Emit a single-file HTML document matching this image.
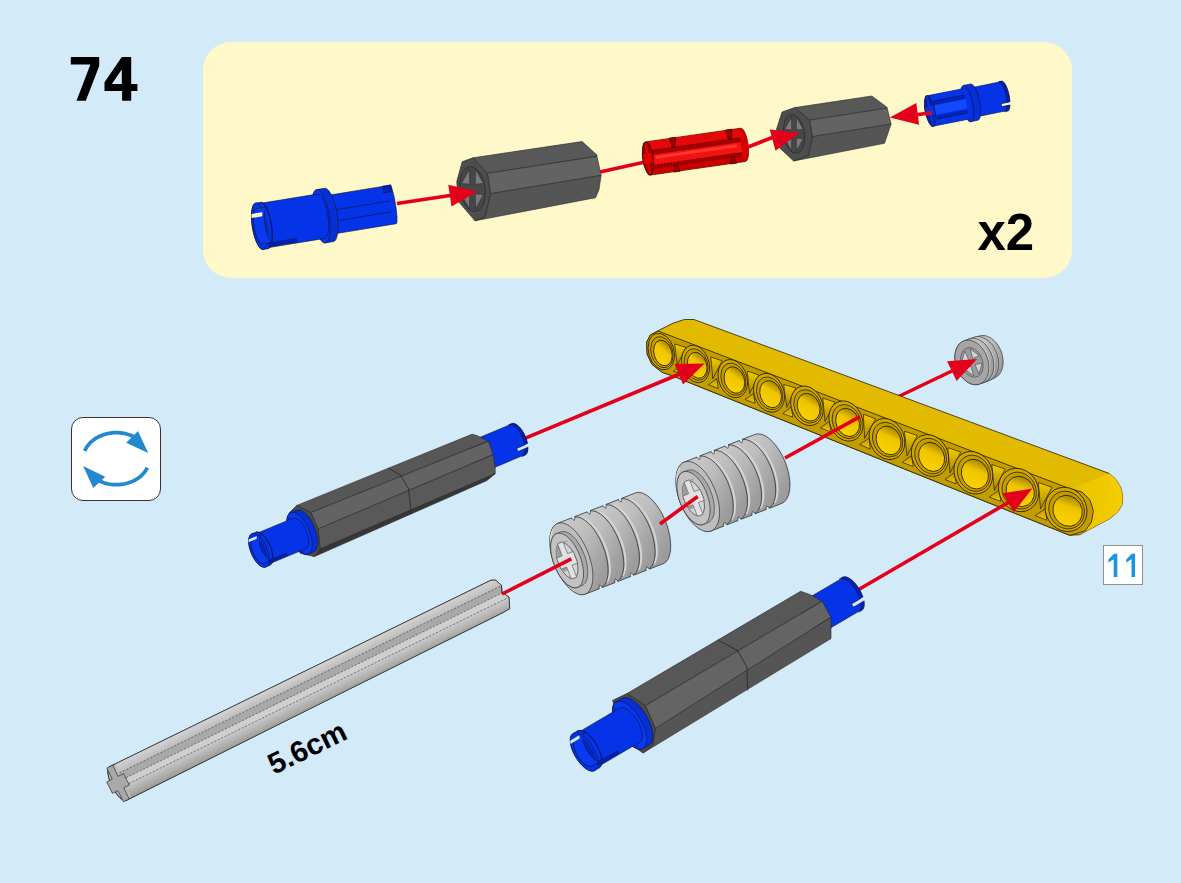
<!DOCTYPE html>
<html><head><meta charset="utf-8"><style>
html,body{margin:0;padding:0}
body{width:1181px;height:883px;background:#D3EAF8;position:relative;overflow:hidden;font-family:"Liberation Sans",sans-serif}
.num{position:absolute;left:68px;top:42.5px;font-size:64px;font-weight:bold;line-height:74px;color:#000}
.panel{position:absolute;left:203px;top:42px;width:869px;height:236px;background:#FFF8C8;border-radius:28px}
.x2{position:absolute;left:977.5px;top:203.5px;font-size:51px;font-weight:bold;line-height:58px;color:#000}
.rot{position:absolute;left:71px;top:417px;width:88px;height:82px;border:1.4px solid #3a3232;border-radius:12px;background:#fff}
.cnt{position:absolute;left:1103px;top:545px;width:38px;height:38px;border:1px solid #8f8f8f;background:#fff;color:#1A95DE;font-size:34px;line-height:40px;text-align:center}
.cn{display:inline-block;transform:scaleX(0.86);transform-origin:50% 50%;position:relative;top:-0.5px;left:-1.5px}
svg{position:absolute;left:0;top:0}
</style></head><body>
<div class="panel"></div>
<div class="x2">x2</div>
<div class="rot"></div>
<div class="cnt"></div>
<svg width="1181" height="883" viewBox="0 0 1181 883">
<polyline points="84.7,451.1 85.7,448.9 86.9,446.9 88.4,444.9 90.0,443.0 91.9,441.2 93.9,439.6 96.1,438.1 98.5,436.8 101.0,435.7 103.6,434.7 106.4,433.9 109.2,433.3 112.0,432.9 114.9,432.7 117.8,432.7 120.7,432.9 123.6,433.3 126.4,433.9 129.1,434.7 131.7,435.7 134.2,436.9 136.6,438.2 138.8,439.7 140.8,441.3" fill="none" stroke="#2089CF" stroke-width="3.7" stroke-linejoin="round" />
<polyline points="147.3,467.6 146.2,469.7 144.9,471.6 143.4,473.5 141.7,475.3 139.8,477.0 137.7,478.5 135.5,479.8 133.1,481.1 130.6,482.1 128.0,483.0 125.3,483.7 122.6,484.2 119.8,484.6 117.0,484.7 114.1,484.6 111.3,484.4 108.5,484.0 105.8,483.4 103.2,482.6 100.6,481.6 98.2,480.4 95.9,479.1 93.8,477.7 91.8,476.1" fill="none" stroke="#2089CF" stroke-width="3.7" stroke-linejoin="round" />
<polygon points="148.2,453.0 138.0,431.0 126.2,442.8" fill="#2089CF" />
<polygon points="83.1,466.0 93.3,488.1 105.2,476.8" fill="#2089CF" />
<path d="M70.8,57.1 L99.2,57.1 L99.2,65.9 L85.8,100.7 L76.5,100.7 L90.4,64.5 L70.8,64.5 Z" fill="#000"/>
<path fill-rule="evenodd" d="M104.5,82.3 L121.8,57.1 L131.2,57.1 L131.2,84 L137.4,84 L137.4,91.1 L131.2,91.1 L131.2,100.7 L122.1,100.7 L122.1,91.1 L104.5,91.1 Z M111.9,84 L121.8,69.6 L121.8,84 Z" fill="#000"/>
<polygon points="1117.3,553.8 1117.3,576.9 1113.7,576.9 1113.7,559.3 1108.4,562.6 1108.4,559.6 1114.0,553.8" fill="#1A95DE" />
<polygon points="1135.1,553.8 1135.1,576.9 1131.5,576.9 1131.5,559.3 1126.2,562.6 1126.2,559.6 1131.8,553.8" fill="#1A95DE" />
<defs><linearGradient id="lg" x1="0" y1="0" x2="1" y2="1"><stop offset="0" stop-color="#D8D8D8"/><stop offset="0.5" stop-color="#C2C2C2"/><stop offset="1" stop-color="#9E9E9E"/></linearGradient><linearGradient id="wg" x1="0" y1="0" x2="1" y2="0.6"><stop offset="0" stop-color="#D0D0D0"/><stop offset="0.55" stop-color="#BDBDBD"/><stop offset="1" stop-color="#9C9C9C"/></linearGradient><linearGradient id="ax1" x1="0" y1="0" x2="0" y2="1"><stop offset="0" stop-color="#D2D2D2"/><stop offset="1" stop-color="#BDBDBD"/></linearGradient><linearGradient id="ax2" x1="0" y1="0" x2="0" y2="1"><stop offset="0" stop-color="#C4C4C4"/><stop offset="1" stop-color="#9C9C9C"/></linearGradient><linearGradient id="ye" x1="0" y1="0" x2="1" y2="0"><stop offset="0" stop-color="#E8C000"/><stop offset="1" stop-color="#F6CE00"/></linearGradient><linearGradient id="yh" x1="0" y1="0" x2="1" y2="1"><stop offset="0" stop-color="#7A6200"/><stop offset="0.4" stop-color="#EEC400"/><stop offset="1" stop-color="#FFD600"/></linearGradient><linearGradient id="yt" x1="0" y1="0" x2="0" y2="1"><stop offset="0" stop-color="#F6CE00"/><stop offset="1" stop-color="#A88600"/></linearGradient><linearGradient id="yt2" x1="0" y1="0" x2="0" y2="1"><stop offset="0" stop-color="#B89200"/><stop offset="1" stop-color="#F4CC00"/></linearGradient></defs>
<polygon points="331.6,234.3 330.7,234.2 329.7,233.6 328.7,232.6 327.6,231.2 326.6,229.3 325.7,227.1 324.8,224.6 324.0,221.9 323.3,219.0 322.7,216.0 322.3,213.0 322.0,210.0 321.9,207.1 322.0,204.5 322.2,202.1 322.6,200.0 323.1,198.3 323.7,197.0 324.5,196.2 325.3,195.8 390.0,185.2 390.7,185.8 391.6,187.6 392.5,190.6 393.6,194.5 394.6,199.1 395.4,204.1 396.2,209.1 396.7,213.8 397.0,217.8 397.0,221.0 396.8,223.0 396.3,223.7" fill="#0534E8" stroke="#101030" stroke-width="0.6" stroke-linejoin="round" />
<polygon points="382.5,186.2 390.9,184.8 392.0,191.5 383.6,192.9" fill="#0022B8" stroke="#101030" stroke-width="0.5" stroke-linejoin="round" />
<polyline points="329.8,210.8 390.0,200.9" fill="none" stroke="#101030" stroke-width="0.6" stroke-linejoin="round" />
<polyline points="331.6,221.6 391.8,211.8" fill="none" stroke="#101030" stroke-width="0.6" stroke-linejoin="round" />
<polygon points="325.4,242.9 324.7,242.9 324.0,242.7 323.2,242.3 322.4,241.7 321.6,240.9 320.9,240.0 320.1,238.8 319.3,237.5 318.5,236.0 317.8,234.4 317.0,232.6 316.3,230.7 315.7,228.7 315.1,226.6 314.5,224.4 314.0,222.1 313.5,219.9 313.1,217.5 312.7,215.2 312.5,212.9 312.2,210.6 312.1,208.3 312.0,206.2 312.0,204.0 312.0,202.0 312.2,200.1 312.4,198.3 312.6,196.7 312.9,195.2 313.3,193.8 313.8,192.6 314.3,191.6 314.8,190.8 315.4,190.2 316.1,189.8 316.7,189.6 324.6,188.3 325.3,188.3 326.1,188.5 326.9,188.9 327.6,189.5 328.4,190.2 329.2,191.2 330.0,192.4 330.8,193.7 331.6,195.2 332.3,196.8 333.0,198.6 333.7,200.5 334.4,202.5 335.0,204.6 335.6,206.8 336.1,209.0 336.6,211.3 337.0,213.6 337.3,216.0 337.6,218.3 337.8,220.6 338.0,222.8 338.1,225.0 338.1,227.1 338.0,229.2 337.9,231.1 337.7,232.9 337.4,234.5 337.1,236.0 336.7,237.4 336.3,238.6 335.8,239.5 335.2,240.4 334.6,241.0 334.0,241.4 333.3,241.6" fill="#0430D8" stroke="#101030" stroke-width="0.6" stroke-linejoin="round" />
<polygon points="325.4,242.9 326.4,242.5 327.4,241.6 328.2,240.4 328.8,238.7 329.4,236.6 329.8,234.2 330.1,231.4 330.2,228.4 330.1,225.2 329.9,221.9 329.6,218.4 329.1,214.9 328.4,211.5 327.7,208.1 326.8,204.8 325.8,201.8 324.8,199.0 323.7,196.5 322.5,194.3 321.3,192.5 320.1,191.1 319.0,190.2 317.8,189.6 316.7,189.6 315.7,190.0 314.8,190.8 314.0,192.1 313.3,193.8 312.8,195.9 312.4,198.3 312.1,201.1 312.0,204.0 312.0,207.2 312.2,210.6 312.6,214.1 313.1,217.5 313.7,221.0 314.5,224.4 315.4,227.6 316.3,230.7 317.4,233.5 318.5,236.0 319.7,238.2 320.9,240.0 322.0,241.4 323.2,242.3 324.4,242.8 325.4,242.9" fill="#0838F0" stroke="#101030" stroke-width="0.6" stroke-linejoin="round" />
<polyline points="314.9,194.1 314.3,195.4 313.8,197.0 313.4,198.9 313.1,201.1 312.9,203.4 312.9,206.0 313.0,208.7 313.2,211.6 313.5,214.5 313.9,217.4 314.4,220.3 315.0,223.2 315.8,225.9 316.6,228.5 317.4,231.0 318.4,233.2 319.3,235.1 320.3,236.8 321.3,238.1 322.3,239.2" fill="none" stroke="#101030" stroke-width="0.5" stroke-linejoin="round" />
<polygon points="263.0,248.5 262.4,248.5 261.8,248.4 261.2,248.0 260.5,247.5 259.9,246.9 259.2,246.1 258.5,245.1 257.9,244.0 257.3,242.8 256.6,241.4 256.0,239.9 255.4,238.3 254.9,236.7 254.4,234.9 253.9,233.1 253.5,231.2 253.1,229.3 252.7,227.4 252.4,225.4 252.2,223.5 252.0,221.6 251.9,219.7 251.8,217.9 251.8,216.1 251.9,214.5 252.0,212.9 252.1,211.4 252.3,210.0 252.6,208.7 252.9,207.6 253.3,206.6 253.7,205.8 254.2,205.1 254.7,204.6 255.2,204.3 255.8,204.1 317.5,194.0 318.1,194.0 318.7,194.2 319.3,194.5 320.0,195.0 320.6,195.7 321.3,196.5 321.9,197.4 322.6,198.5 323.2,199.8 323.9,201.1 324.5,202.6 325.0,204.2 325.6,205.9 326.1,207.6 326.6,209.4 327.0,211.3 327.4,213.2 327.7,215.2 328.0,217.1 328.3,219.0 328.5,220.9 328.6,222.8 328.7,224.6 328.7,226.4 328.6,228.1 328.5,229.7 328.4,231.2 328.1,232.6 327.9,233.8 327.6,234.9 327.2,235.9 326.8,236.7 326.3,237.4 325.8,237.9 325.3,238.3 324.7,238.4" fill="#0534E8" stroke="#101030" stroke-width="0.6" stroke-linejoin="round" />
<polygon points="263.2,249.5 262.6,249.5 261.9,249.3 261.3,249.0 260.6,248.5 259.9,247.8 259.2,247.0 258.5,245.9 257.8,244.8 257.2,243.5 256.5,242.1 255.9,240.5 255.3,238.9 254.7,237.1 254.2,235.3 253.7,233.4 253.2,231.4 252.8,229.5 252.4,227.4 252.1,225.4 251.9,223.4 251.7,221.4 251.6,219.4 251.5,217.5 251.5,215.7 251.5,213.9 251.6,212.3 251.8,210.7 252.0,209.3 252.3,208.0 252.6,206.8 253.0,205.8 253.5,204.9 253.9,204.2 254.5,203.7 255.0,203.3 255.6,203.1 260.6,202.3 261.2,202.3 261.8,202.5 262.5,202.8 263.2,203.3 263.8,204.0 264.5,204.8 265.2,205.8 265.9,207.0 266.6,208.3 267.2,209.7 267.9,211.3 268.5,212.9 269.0,214.7 269.6,216.5 270.1,218.4 270.5,220.3 270.9,222.3 271.3,224.4 271.6,226.4 271.8,228.4 272.0,230.4 272.2,232.4 272.2,234.3 272.3,236.1 272.2,237.9 272.1,239.5 271.9,241.1 271.7,242.5 271.4,243.8 271.1,245.0 270.7,246.0 270.3,246.9 269.8,247.6 269.3,248.1 268.7,248.5 268.1,248.7" fill="#0534E8" stroke="#101030" stroke-width="0.6" stroke-linejoin="round" />
<polyline points="268.1,248.7 269.0,248.3 269.8,247.6 270.5,246.5 271.1,245.0 271.6,243.2 271.9,241.1 272.2,238.7 272.3,236.1 272.2,233.3 272.0,230.4 271.7,227.4 271.3,224.4 270.7,221.3 270.1,218.4 269.3,215.6 268.5,212.9 267.6,210.5 266.6,208.3 265.6,206.4 264.5,204.8 263.5,203.6 262.5,202.8 261.5,202.4 260.6,202.3" fill="none" stroke="#101030" stroke-width="0.6" stroke-linejoin="round" />
<polygon points="263.2,249.5 264.1,249.1 264.9,248.4 265.6,247.3 266.2,245.8 266.6,244.0 267.0,241.9 267.2,239.5 267.3,236.9 267.3,234.1 267.1,231.2 266.8,228.2 266.4,225.2 265.8,222.1 265.1,219.2 264.4,216.4 263.5,213.7 262.6,211.3 261.6,209.1 260.6,207.2 259.6,205.6 258.6,204.4 257.5,203.6 256.6,203.2 255.6,203.1 254.7,203.5 253.9,204.2 253.2,205.3 252.6,206.8 252.2,208.6 251.8,210.7 251.6,213.1 251.5,215.7 251.5,218.5 251.7,221.4 252.0,224.4 252.4,227.4 253.0,230.5 253.7,233.4 254.4,236.2 255.3,238.9 256.2,241.3 257.2,243.5 258.2,245.4 259.2,247.0 260.2,248.2 261.3,249.0 262.2,249.4 263.2,249.5" fill="#0534E8" stroke="#101030" stroke-width="0.6" stroke-linejoin="round" />
<polygon points="262.3,243.9 262.9,243.7 263.5,243.1 264.1,242.3 264.5,241.1 264.9,239.8 265.2,238.2 265.3,236.3 265.4,234.4 265.4,232.2 265.3,230.0 265.0,227.7 264.7,225.4 264.3,223.1 263.8,220.9 263.2,218.8 262.5,216.7 261.8,214.9 261.1,213.2 260.3,211.8 259.6,210.6 258.8,209.7 258.0,209.1 257.2,208.7 256.5,208.7 255.9,208.9 255.3,209.5 254.7,210.3 254.3,211.5 253.9,212.8 253.6,214.4 253.5,216.3 253.4,218.2 253.4,220.4 253.5,222.6 253.8,224.9 254.1,227.2 254.5,229.5 255.0,231.7 255.6,233.8 256.3,235.9 257.0,237.7 257.7,239.4 258.5,240.8 259.2,242.0 260.0,242.9 260.8,243.5 261.6,243.9 262.3,243.9" fill="#0426C4" stroke="#101030" stroke-width="0.5" stroke-linejoin="round" />
<polygon points="256.5,208.7 255.9,208.9 255.3,209.5 254.7,210.3 254.3,211.5 253.9,212.8 253.6,214.4 253.5,216.3 253.4,218.2 253.4,220.4 253.5,222.6 253.8,224.9 254.1,227.2 254.5,229.5 255.0,231.7 255.6,233.8 256.3,235.9 257.0,237.7 257.7,239.4 258.5,240.8 259.2,242.0 260.0,242.9 260.8,243.5 261.6,243.9 262.3,243.9 273.1,242.2 272.4,242.1 271.7,241.8 270.9,241.1 270.1,240.2 269.3,239.0 268.6,237.6 267.8,235.9 267.1,234.1 266.5,232.1 265.9,229.9 265.4,227.7 265.0,225.4 264.6,223.1 264.4,220.8 264.3,218.6 264.2,216.5 264.3,214.5 264.5,212.7 264.8,211.1 265.1,209.7 265.6,208.6 266.1,207.7 266.7,207.2 267.4,206.9" fill="#0A3AF0" stroke="#101030" stroke-width="0.5" stroke-linejoin="round" />
<polygon points="251.5,214.0 251.5,218.1 262.3,216.3 262.3,212.2" fill="#FFF8C8" />
<polygon points="268.2,243.1 296.2,238.5 296.7,241.6 268.7,246.2" fill="#0022B8" stroke="#101030" stroke-width="0.5" stroke-linejoin="round" />
<polygon points="976.0,116.9 975.7,116.9 975.2,116.8 974.8,116.6 974.4,116.3 973.9,115.9 973.5,115.4 973.0,114.8 972.6,114.1 972.1,113.3 971.7,112.4 971.2,111.4 970.8,110.4 970.4,109.3 970.0,108.2 969.7,107.0 969.4,105.8 969.1,104.5 968.8,103.2 968.6,102.0 968.4,100.7 968.2,99.5 968.1,98.2 968.0,97.0 967.9,95.9 967.9,94.8 967.9,93.7 968.0,92.7 968.1,91.8 968.3,91.0 968.5,90.2 968.7,89.6 968.9,89.0 969.2,88.6 969.5,88.2 969.9,88.0 970.2,87.9 1001.6,81.6 1002.0,81.6 1002.4,81.7 1002.9,81.9 1003.3,82.2 1003.7,82.6 1004.2,83.1 1004.6,83.7 1005.1,84.4 1005.6,85.2 1006.0,86.1 1006.4,87.1 1006.8,88.1 1007.2,89.2 1007.6,90.3 1008.0,91.5 1008.3,92.7 1008.6,94.0 1008.9,95.2 1009.1,96.5 1009.3,97.8 1009.5,99.0 1009.6,100.3 1009.7,101.5 1009.7,102.6 1009.8,103.7 1009.7,104.8 1009.7,105.8 1009.5,106.7 1009.4,107.5 1009.2,108.2 1009.0,108.9 1008.7,109.5 1008.5,109.9 1008.1,110.3 1007.8,110.5 1007.4,110.6" fill="#0534E8" stroke="#101030" stroke-width="0.6" stroke-linejoin="round" />
<polygon points="1004.6,111.7 1005.1,111.5 1005.6,111.0 1006.1,110.2 1006.4,109.2 1006.7,108.1 1006.9,106.7 1007.0,105.1 1007.0,103.4 1006.9,101.6 1006.7,99.7 1006.4,97.8 1006.1,95.8 1005.7,93.8 1005.2,91.9 1004.6,90.1 1004.0,88.4 1003.3,86.9 1002.6,85.5 1001.9,84.2 1001.2,83.3 1000.5,82.5 999.9,82.0 999.2,81.7 998.6,81.7 1001.5,81.1 1002.1,81.1 1002.8,81.4 1003.5,81.9 1004.2,82.7 1004.9,83.7 1005.6,84.9 1006.3,86.3 1006.9,87.8 1007.5,89.5 1008.1,91.4 1008.6,93.3 1009.0,95.2 1009.4,97.2 1009.7,99.1 1009.8,101.0 1009.9,102.8 1009.9,104.5 1009.8,106.1 1009.6,107.5 1009.4,108.7 1009.0,109.6 1008.6,110.4 1008.1,110.9 1007.5,111.1" fill="#0022B8" stroke="#101030" stroke-width="0.6" stroke-linejoin="round" />
<polygon points="1001.2,103.7 1011.3,101.7 1011.9,104.6 1001.7,106.6" fill="#FFF8C8" />
<polyline points="1010.0,105.0 1001.7,106.6 1001.2,103.7 1008.6,102.2" fill="none" stroke="#101030" stroke-width="0.6" stroke-linejoin="round" />
<polygon points="970.9,121.7 970.4,121.7 969.9,121.6 969.4,121.4 968.8,121.0 968.2,120.5 967.7,119.8 967.1,119.0 966.5,118.2 966.0,117.2 965.4,116.0 964.9,114.9 964.4,113.6 963.9,112.2 963.4,110.8 962.9,109.3 962.5,107.8 962.2,106.2 961.8,104.6 961.5,103.1 961.3,101.5 961.1,99.9 960.9,98.4 960.8,96.9 960.7,95.4 960.7,94.0 960.8,92.7 960.9,91.5 961.0,90.4 961.2,89.3 961.4,88.4 961.7,87.6 962.0,86.9 962.4,86.3 962.7,85.9 963.2,85.6 963.6,85.4 970.5,84.0 971.0,84.0 971.5,84.1 972.0,84.4 972.6,84.8 973.1,85.3 973.7,85.9 974.3,86.7 974.8,87.6 975.4,88.6 976.0,89.7 976.5,90.9 977.0,92.2 977.5,93.5 978.0,95.0 978.4,96.4 978.9,98.0 979.2,99.5 979.6,101.1 979.9,102.7 980.1,104.3 980.3,105.8 980.5,107.4 980.6,108.9 980.7,110.3 980.7,111.7 980.6,113.0 980.5,114.2 980.4,115.4 980.2,116.4 980.0,117.4 979.7,118.2 979.4,118.9 979.0,119.4 978.6,119.9 978.2,120.2 977.8,120.3" fill="#0430D8" stroke="#101030" stroke-width="0.6" stroke-linejoin="round" />
<polygon points="970.9,121.7 971.6,121.4 972.2,120.8 972.7,119.9 973.1,118.7 973.5,117.3 973.7,115.6 973.8,113.7 973.8,111.7 973.7,109.5 973.5,107.2 973.1,104.8 972.7,102.5 972.2,100.1 971.6,97.8 970.9,95.6 970.2,93.5 969.4,91.6 968.5,90.0 967.7,88.5 966.8,87.3 966.0,86.4 965.2,85.8 964.4,85.4 963.6,85.4 963.0,85.7 962.4,86.3 961.8,87.2 961.4,88.4 961.1,89.8 960.9,91.5 960.7,93.4 960.7,95.4 960.8,97.6 961.1,99.9 961.4,102.3 961.8,104.6 962.3,107.0 962.9,109.3 963.6,111.5 964.4,113.6 965.2,115.5 966.0,117.2 966.8,118.6 967.7,119.8 968.5,120.7 969.4,121.4 970.1,121.7 970.9,121.7" fill="#0838F0" stroke="#101030" stroke-width="0.6" stroke-linejoin="round" />
<polygon points="933.0,126.2 932.6,126.2 932.2,126.1 931.8,125.9 931.3,125.6 930.8,125.2 930.4,124.6 929.9,124.0 929.4,123.2 928.9,122.4 928.5,121.5 928.0,120.5 927.6,119.4 927.2,118.2 926.8,117.1 926.4,115.8 926.0,114.5 925.7,113.2 925.4,111.9 925.2,110.6 925.0,109.3 924.8,107.9 924.7,106.7 924.6,105.4 924.5,104.2 924.5,103.0 924.6,101.9 924.6,100.9 924.7,99.9 924.9,99.1 925.1,98.3 925.3,97.6 925.6,97.0 925.9,96.6 926.2,96.2 926.6,95.9 927.0,95.8 964.2,88.4 964.6,88.3 965.1,88.4 965.5,88.6 966.0,89.0 966.4,89.4 966.9,89.9 967.4,90.6 967.9,91.3 968.3,92.2 968.8,93.1 969.3,94.1 969.7,95.2 970.1,96.3 970.5,97.5 970.9,98.7 971.2,100.0 971.5,101.3 971.8,102.6 972.1,104.0 972.3,105.3 972.5,106.6 972.6,107.9 972.7,109.2 972.7,110.4 972.7,111.5 972.7,112.6 972.6,113.7 972.5,114.6 972.4,115.5 972.2,116.3 971.9,116.9 971.7,117.5 971.4,118.0 971.0,118.4 970.7,118.6 970.3,118.8" fill="#0534E8" stroke="#101030" stroke-width="0.6" stroke-linejoin="round" />
<polygon points="937.0,125.4 937.6,125.1 938.2,124.4 938.7,123.3 939.1,122.0 939.3,120.3 939.4,118.4 939.4,116.3 939.2,114.0 938.9,111.7 938.5,109.3 938.0,106.9 937.3,104.7 936.6,102.5 935.8,100.5 935.0,98.8 934.1,97.4 933.3,96.3 932.4,95.5 931.6,95.1 930.9,95.0 964.2,88.4 965.0,88.4 965.8,88.8 966.6,89.6 967.5,90.7 968.3,92.2 969.2,93.9 969.9,95.8 970.7,98.0 971.3,100.3 971.8,102.6 972.2,105.0 972.5,107.4 972.7,109.6 972.7,111.8 972.6,113.7 972.4,115.3 972.0,116.7 971.6,117.7 971.0,118.4 970.3,118.8" fill="#0534E8" />
<polygon points="934.0,105.6 965.4,99.3 967.2,108.2 935.8,114.4" fill="#1448FF" />
<polygon points="933.1,101.2 964.5,94.9 965.3,98.8 933.9,105.1" fill="#0024B8" />
<polygon points="936.1,115.9 967.5,109.6 968.1,113.1 936.8,119.3" fill="#0024B8" />
<polyline points="933.1,101.2 964.5,94.9" fill="none" stroke="#101030" stroke-width="0.5" stroke-linejoin="round" />
<polyline points="936.8,119.3 968.1,113.1" fill="none" stroke="#101030" stroke-width="0.5" stroke-linejoin="round" />
<polygon points="933.0,126.2 933.6,126.0 934.1,125.4 934.6,124.7 934.9,123.7 935.2,122.5 935.4,121.1 935.5,119.5 935.5,117.8 935.4,116.0 935.2,114.1 934.9,112.1 934.6,110.1 934.1,108.1 933.6,106.2 933.1,104.3 932.4,102.6 931.8,101.0 931.1,99.6 930.4,98.4 929.6,97.4 928.9,96.6 928.2,96.1 927.6,95.8 927.0,95.8 926.4,96.0 925.9,96.6 925.4,97.3 925.1,98.3 924.8,99.5 924.6,100.9 924.5,102.5 924.5,104.2 924.6,106.0 924.8,107.9 925.1,109.9 925.4,111.9 925.9,113.9 926.4,115.8 926.9,117.7 927.6,119.4 928.2,121.0 928.9,122.4 929.6,123.6 930.4,124.6 931.1,125.4 931.8,125.9 932.4,126.2 933.0,126.2" fill="#0426C4" stroke="#101030" stroke-width="0.5" stroke-linejoin="round" />
<polygon points="925.4,96.1 928.5,95.5 930.5,105.5 933.5,104.9 935.6,115.3 932.6,115.9 934.6,125.9 931.5,126.5 929.5,116.5 926.5,117.1 924.4,106.7 927.4,106.1" fill="#0534E8" stroke="#101030" stroke-width="0.6" stroke-linejoin="round" />
<polygon points="473.0,157.8 487.3,173.4 597.0,156.4 597.0,155.0 582.1,141.5" fill="#585858" stroke="#262626" stroke-width="0.6" stroke-linejoin="round" />
<polygon points="487.3,173.4 490.6,193.7 601.1,175.4 597.0,156.4" fill="#636363" stroke="#262626" stroke-width="0.6" stroke-linejoin="round" />
<polygon points="490.6,193.7 475.0,220.8 595.6,197.7 599.0,189.6 601.1,175.4" fill="#555555" stroke="#262626" stroke-width="0.6" stroke-linejoin="round" />
<polygon points="462.2,161.8 473.0,157.8 487.3,173.4 490.6,193.7 485.0,217.0 475.0,220.8 458.1,201.1 456.8,181.5" fill="#4d4d4d" stroke="#262626" stroke-width="0.7" stroke-linejoin="round" />
<ellipse cx="472.5" cy="189.0" rx="12.5" ry="22.5" transform="rotate(-8.0 472.5 189.0)" fill="#474747" stroke="#2a2a2a" stroke-width="0.7" />
<polygon points="483.6,194.4 475.5,209.0 475.2,193.8" fill="#7A7A7A" stroke="#2a2a2a" stroke-width="0.6" stroke-linejoin="round" />
<polygon points="469.5,209.0 461.4,194.4 469.8,193.8" fill="#7A7A7A" stroke="#2a2a2a" stroke-width="0.6" stroke-linejoin="round" />
<polygon points="461.4,183.6 469.5,169.0 469.8,184.2" fill="#7A7A7A" stroke="#2a2a2a" stroke-width="0.6" stroke-linejoin="round" />
<polygon points="475.5,169.0 483.6,183.6 475.2,184.2" fill="#7A7A7A" stroke="#2a2a2a" stroke-width="0.6" stroke-linejoin="round" />
<polygon points="794.8,107.6 809.6,120.2 887.2,108.1 886.7,107.0 871.8,96.0" fill="#585858" stroke="#262626" stroke-width="0.6" stroke-linejoin="round" />
<polygon points="809.6,120.2 812.4,136.7 891.1,124.1 887.2,108.1" fill="#636363" stroke="#262626" stroke-width="0.6" stroke-linejoin="round" />
<polygon points="812.4,136.7 793.7,161.0 884.5,143.3 891.1,124.1" fill="#555555" stroke="#262626" stroke-width="0.6" stroke-linejoin="round" />
<polygon points="782.1,112.0 794.8,107.6 809.6,120.2 812.4,136.7 808.5,155.4 793.7,161.0 779.4,147.7 776.6,129.0" fill="#4d4d4d" stroke="#262626" stroke-width="0.7" stroke-linejoin="round" />
<ellipse cx="794.0" cy="134.0" rx="10.5" ry="19.5" transform="rotate(-8.0 794.0 134.0)" fill="#474747" stroke="#2a2a2a" stroke-width="0.7" />
<polygon points="803.3,138.6 796.5,151.3 796.2,138.1" fill="#7A7A7A" stroke="#2a2a2a" stroke-width="0.6" stroke-linejoin="round" />
<polygon points="791.5,151.3 784.7,138.6 791.8,138.1" fill="#7A7A7A" stroke="#2a2a2a" stroke-width="0.6" stroke-linejoin="round" />
<polygon points="784.7,129.4 791.5,116.7 791.8,129.9" fill="#7A7A7A" stroke="#2a2a2a" stroke-width="0.6" stroke-linejoin="round" />
<polygon points="796.5,116.7 803.3,129.4 796.2,129.9" fill="#7A7A7A" stroke="#2a2a2a" stroke-width="0.6" stroke-linejoin="round" />
<line x1="397.0" y1="203.5" x2="455.0" y2="194.8" stroke="#E3001B" stroke-width="3.6"/>
<polygon points="477.6,191.5 451.5,206.5 448.3,184.7" fill="#E3001B" />
<line x1="600.0" y1="172.0" x2="645.0" y2="162.0" stroke="#E3001B" stroke-width="3.6"/>
<polygon points="650.4,175.1 649.9,175.1 649.5,175.0 649.0,174.7 648.5,174.4 648.1,173.9 647.6,173.3 647.1,172.5 646.6,171.7 646.2,170.8 645.7,169.7 645.3,168.6 644.9,167.4 644.5,166.2 644.1,164.9 643.8,163.5 643.5,162.1 643.2,160.7 643.0,159.2 642.8,157.8 642.7,156.3 642.6,154.9 642.5,153.5 642.5,152.1 642.5,150.8 642.5,149.5 642.6,148.4 642.8,147.2 643.0,146.2 643.2,145.3 643.4,144.5 643.7,143.7 644.1,143.1 644.4,142.6 644.8,142.2 645.2,142.0 645.6,141.9 740.6,128.2 741.1,128.2 741.5,128.4 742.0,128.6 742.5,129.0 743.0,129.5 743.5,130.1 743.9,130.8 744.4,131.7 744.9,132.6 745.3,133.6 745.7,134.7 746.2,135.9 746.5,137.2 746.9,138.5 747.2,139.9 747.5,141.3 747.8,142.7 748.0,144.2 748.2,145.6 748.4,147.1 748.5,148.5 748.5,149.9 748.6,151.2 748.5,152.6 748.5,153.8 748.4,155.0 748.2,156.1 748.1,157.1 747.8,158.1 747.6,158.9 747.3,159.6 747.0,160.3 746.6,160.7 746.2,161.1 745.8,161.4 745.4,161.5" fill="#D80000" stroke="#3a0000" stroke-width="0.7" stroke-linejoin="round" />
<polygon points="649.6,141.6 738.7,128.8 740.0,137.7 650.9,150.5" fill="#E40808" />
<polygon points="650.9,150.5 740.0,137.7 740.6,141.7 651.5,154.5" fill="#A80000" />
<polygon points="651.5,154.5 740.6,141.7 742.1,152.6 653.0,165.4" fill="#F21212" />
<polygon points="655.7,155.9 736.9,144.2 737.3,147.2 656.1,158.8" fill="#FF3A2A" />
<polygon points="653.0,165.4 742.1,152.6 742.5,155.5 653.5,168.3" fill="#A80000" />
<polygon points="653.5,168.3 742.5,155.5 743.4,161.5 654.3,174.3" fill="#C80000" />
<polyline points="651.9,150.4 740.0,137.7" fill="none" stroke="#3a0000" stroke-width="0.6" stroke-linejoin="round" stroke-dasharray="2 1.2"/>
<polyline points="652.5,154.3 740.6,141.7" fill="none" stroke="#3a0000" stroke-width="0.6" stroke-linejoin="round" stroke-dasharray="2 1.2"/>
<polyline points="654.0,165.2 742.1,152.6" fill="none" stroke="#3a0000" stroke-width="0.6" stroke-linejoin="round" stroke-dasharray="2 1.2"/>
<polyline points="654.4,168.2 742.5,155.5" fill="none" stroke="#3a0000" stroke-width="0.6" stroke-linejoin="round" stroke-dasharray="2 1.2"/>
<polygon points="669.3,138.1 675.3,137.2 675.1,147.0 672.2,147.5" fill="#9A0000" stroke="#3a0000" stroke-width="0.6" stroke-linejoin="round" />
<polygon points="674.2,172.1 680.1,171.3 677.7,164.8 674.7,165.3" fill="#9A0000" stroke="#3a0000" stroke-width="0.6" stroke-linejoin="round" />
<polygon points="725.7,130.0 731.7,129.1 731.6,138.9 728.6,139.4" fill="#9A0000" stroke="#3a0000" stroke-width="0.6" stroke-linejoin="round" />
<polygon points="730.6,164.0 736.6,163.2 734.1,156.8 731.2,157.2" fill="#9A0000" stroke="#3a0000" stroke-width="0.6" stroke-linejoin="round" />
<polygon points="650.4,175.1 651.0,174.9 651.6,174.4 652.1,173.6 652.6,172.5 652.9,171.3 653.2,169.8 653.4,168.1 653.5,166.2 653.5,164.2 653.4,162.1 653.3,160.0 653.0,157.8 652.6,155.6 652.2,153.5 651.7,151.5 651.1,149.6 650.5,147.8 649.8,146.2 649.1,144.9 648.4,143.7 647.7,142.9 647.0,142.3 646.3,141.9 645.6,141.9 645.0,142.1 644.4,142.6 643.9,143.4 643.4,144.5 643.1,145.7 642.8,147.2 642.6,148.9 642.5,150.8 642.5,152.8 642.6,154.9 642.7,157.0 643.0,159.2 643.4,161.4 643.8,163.5 644.3,165.5 644.9,167.4 645.5,169.2 646.2,170.8 646.9,172.1 647.6,173.3 648.3,174.1 649.0,174.7 649.7,175.1 650.4,175.1" fill="#C40000" stroke="#3a0000" stroke-width="0.7" stroke-linejoin="round" />
<polygon points="643.9,143.0 647.5,142.4 649.0,152.6 652.2,152.1 653.8,163.5 650.6,163.9 652.1,174.0 648.5,174.6 647.0,164.4 643.8,164.9 642.2,153.5 645.4,153.1" fill="#E00000" stroke="#3a0000" stroke-width="0.6" stroke-linejoin="round" />
<line x1="748.0" y1="147.0" x2="775.0" y2="136.5" stroke="#E3001B" stroke-width="3.6"/>
<polygon points="799.6,132.8 775.5,150.8 769.7,129.6" fill="#E3001B" />
<line x1="932.0" y1="112.5" x2="912.0" y2="115.5" stroke="#E3001B" stroke-width="3.6"/>
<polygon points="889.9,117.4 916.3,103.0 919.1,124.8" fill="#E3001B" />
<line x1="885.0" y1="403.0" x2="955.0" y2="369.5" stroke="#E3001B" stroke-width="3.6"/>
<polygon points="989.4,379.8 988.1,380.2 986.7,380.4 985.3,380.5 983.9,380.4 982.4,380.1 981.0,379.7 979.6,379.1 978.1,378.3 976.8,377.4 975.4,376.4 974.1,375.2 972.8,373.9 971.7,372.5 970.6,371.0 969.6,369.4 968.6,367.7 967.8,365.9 967.1,364.1 966.5,362.3 966.0,360.4 965.6,358.5 965.4,356.6 965.3,354.8 965.3,352.9 965.4,351.1 965.6,349.4 966.0,347.7 966.5,346.2 967.1,344.7 967.9,343.3 968.7,342.1 969.6,340.9 970.6,339.9 971.8,339.1 972.9,338.4 974.2,337.8 979.0,336.1 980.3,335.7 981.6,335.5 983.0,335.5 984.5,335.6 985.9,335.8 987.3,336.3 988.8,336.9 990.2,337.6 991.6,338.5 992.9,339.5 994.2,340.7 995.5,342.0 996.7,343.4 997.8,344.9 998.8,346.5 999.7,348.2 1000.5,350.0 1001.3,351.8 1001.9,353.6 1002.4,355.5 1002.7,357.4 1003.0,359.3 1003.1,361.1 1003.1,363.0 1003.0,364.8 1002.7,366.5 1002.3,368.2 1001.8,369.8 1001.2,371.2 1000.5,372.6 999.7,373.9 998.7,375.0 997.7,376.0 996.6,376.8 995.4,377.5 994.2,378.1" fill="url(#wg)" stroke="#303030" stroke-width="0.7" stroke-linejoin="round" />
<polyline points="994.7,375.8 995.7,374.5 996.6,373.0 997.4,371.4 998.0,369.7 998.5,367.8 998.8,365.9 998.9,363.8 998.9,361.7 998.7,359.6 998.3,357.5 997.8,355.4 997.1,353.3 996.3,351.2 995.4,349.3 994.3,347.4 993.1,345.6 991.8,344.0 990.3,342.5 988.9,341.2 987.3,340.1 985.7,339.1 984.1,338.4 982.5,337.9 980.9,337.5" fill="none" stroke="#D0D0D0" stroke-width="1.4" stroke-linejoin="round" />
<polygon points="984.6,382.3 983.3,382.7 981.9,382.9 980.4,382.9 979.0,382.8 977.5,382.5 976.0,382.1 974.5,381.5 973.1,380.7 971.6,379.8 970.2,378.7 968.9,377.5 967.6,376.2 966.4,374.7 965.2,373.2 964.2,371.5 963.2,369.8 962.4,368.0 961.6,366.1 961.0,364.2 960.5,362.3 960.1,360.3 959.9,358.4 959.8,356.5 959.8,354.6 959.9,352.7 960.2,350.9 960.6,349.2 961.1,347.6 961.7,346.1 962.4,344.6 963.3,343.3 964.3,342.2 965.3,341.2 966.5,340.3 967.7,339.6 969.0,339.0 974.0,337.2 975.3,336.8 976.7,336.6 978.1,336.5 979.6,336.6 981.1,336.9 982.6,337.4 984.0,338.0 985.5,338.7 986.9,339.7 988.3,340.7 989.7,341.9 991.0,343.3 992.2,344.7 993.3,346.3 994.4,347.9 995.3,349.7 996.2,351.5 996.9,353.4 997.5,355.3 998.0,357.2 998.4,359.1 998.7,361.1 998.8,363.0 998.8,364.9 998.7,366.7 998.4,368.5 998.0,370.3 997.5,371.9 996.9,373.4 996.1,374.8 995.3,376.1 994.3,377.3 993.2,378.3 992.1,379.2 990.9,379.9 989.6,380.5" fill="url(#wg)" stroke="#303030" stroke-width="0.7" stroke-linejoin="round" />
<polyline points="990.1,378.1 991.1,376.8 992.1,375.3 992.9,373.6 993.5,371.8 994.0,369.9 994.3,367.9 994.4,365.8 994.4,363.7 994.2,361.5 993.8,359.3 993.3,357.1 992.6,354.9 991.8,352.8 990.8,350.8 989.6,348.8 988.4,347.0 987.0,345.4 985.6,343.8 984.1,342.5 982.5,341.3 980.8,340.3 979.2,339.6 977.5,339.0 975.8,338.7" fill="none" stroke="#D0D0D0" stroke-width="1.4" stroke-linejoin="round" />
<polygon points="979.7,384.0 978.4,384.4 977.0,384.7 975.5,384.7 974.1,384.6 972.6,384.3 971.1,383.9 969.6,383.3 968.2,382.5 966.7,381.6 965.3,380.5 964.0,379.3 962.7,378.0 961.5,376.5 960.3,374.9 959.3,373.3 958.3,371.5 957.5,369.7 956.8,367.9 956.1,366.0 955.6,364.0 955.3,362.1 955.0,360.1 954.9,358.2 954.9,356.3 955.0,354.5 955.3,352.7 955.7,351.0 956.2,349.4 956.8,347.8 957.6,346.4 958.4,345.1 959.4,343.9 960.4,342.9 961.6,342.1 962.8,341.3 964.1,340.8 969.0,339.0 970.3,338.6 971.7,338.4 973.2,338.3 974.6,338.4 976.1,338.7 977.6,339.2 979.1,339.8 980.5,340.5 982.0,341.5 983.4,342.5 984.7,343.7 986.0,345.1 987.2,346.5 988.3,348.1 989.4,349.7 990.3,351.5 991.2,353.3 991.9,355.2 992.6,357.1 993.1,359.0 993.4,360.9 993.7,362.9 993.8,364.8 993.8,366.7 993.7,368.6 993.4,370.3 993.0,372.1 992.5,373.7 991.9,375.2 991.1,376.6 990.3,377.9 989.3,379.1 988.3,380.1 987.1,381.0 985.9,381.7 984.6,382.3" fill="url(#wg)" stroke="#303030" stroke-width="0.7" stroke-linejoin="round" />
<polyline points="985.2,379.9 986.3,378.6 987.2,377.1 988.0,375.4 988.6,373.6 989.1,371.7 989.4,369.7 989.6,367.6 989.5,365.4 989.3,363.2 988.9,361.0 988.4,358.8 987.7,356.7 986.9,354.6 985.9,352.5 984.8,350.6 983.5,348.8 982.2,347.1 980.7,345.6 979.2,344.3 977.6,343.1 975.9,342.1 974.3,341.3 972.6,340.8 970.9,340.5" fill="none" stroke="#D0D0D0" stroke-width="1.4" stroke-linejoin="round" />
<polygon points="979.7,384.0 981.6,383.1 983.4,381.9 984.9,380.3 986.2,378.4 987.3,376.2 988.1,373.8 988.7,371.2 988.9,368.5 988.9,365.6 988.5,362.7 987.9,359.8 987.0,356.9 985.9,354.1 984.5,351.5 982.9,349.1 981.1,346.8 979.1,344.9 977.1,343.2 974.9,341.9 972.7,340.9 970.5,340.3 968.3,340.1 966.1,340.2 964.1,340.8 962.2,341.7 960.4,342.9 958.9,344.5 957.6,346.4 956.5,348.6 955.7,351.0 955.1,353.6 954.9,356.3 954.9,359.2 955.3,362.1 955.9,365.0 956.8,367.9 957.9,370.7 959.3,373.3 960.9,375.7 962.7,378.0 964.7,379.9 966.7,381.6 968.9,382.9 971.1,383.9 973.3,384.5 975.5,384.7 977.7,384.6 979.7,384.0" fill="#A6A6A6" stroke="#303030" stroke-width="0.7" stroke-linejoin="round" />
<polygon points="977.1,376.7 978.3,376.1 979.5,375.3 980.5,374.2 981.4,373.0 982.1,371.5 982.6,369.9 983.0,368.2 983.1,366.4 983.1,364.5 982.9,362.6 982.5,360.7 981.9,358.8 981.1,357.0 980.2,355.2 979.2,353.6 978.0,352.1 976.7,350.8 975.3,349.8 973.9,348.9 972.4,348.2 971.0,347.8 969.5,347.7 968.1,347.8 966.7,348.1 965.5,348.7 964.3,349.5 963.3,350.6 962.4,351.8 961.7,353.3 961.2,354.9 960.8,356.6 960.7,358.4 960.7,360.3 960.9,362.2 961.3,364.1 961.9,366.0 962.7,367.8 963.6,369.6 964.6,371.2 965.8,372.7 967.1,374.0 968.5,375.0 969.9,375.9 971.4,376.6 972.8,377.0 974.3,377.1 975.7,377.0 977.1,376.7" fill="#9A9A9A" stroke="#303030" stroke-width="0.5" stroke-linejoin="round" />
<polygon points="979.0,373.8 982.0,363.1 975.1,364.7" fill="#D4D4D4" stroke="#303030" stroke-width="0.5" stroke-linejoin="round" />
<polygon points="979.2,355.5 970.1,349.0 972.9,358.6" fill="#D4D4D4" stroke="#303030" stroke-width="0.5" stroke-linejoin="round" />
<polygon points="964.8,351.0 961.8,361.7 968.7,360.1" fill="#D4D4D4" stroke="#303030" stroke-width="0.5" stroke-linejoin="round" />
<polygon points="964.6,369.3 973.7,375.8 970.9,366.2" fill="#D4D4D4" stroke="#303030" stroke-width="0.5" stroke-linejoin="round" />
<polygon points="977.1,359.0 956.6,381.0 947.1,361.2" fill="#E3001B" />
<polygon points="673.3,376.2 662.2,372.3 651.9,364.3 647.1,354.0 646.7,342.1 650.3,335.0 659.0,330.2 673.3,323.1 684.4,319.5 694.0,319.5 1109.6,473.6 1116.0,479.5 1120.5,487.0 1122.7,496.0 1122.0,504.8 1118.0,511.5 1110.0,518.5 1079.7,534.7 1069.7,535.3" fill="#E2BA00" stroke="#2a2000" stroke-width="0.8" stroke-linejoin="round" />
<polygon points="1069.7,488.6 1109.6,473.6 1116.0,479.5 1120.5,487.0 1122.7,496.0 1122.0,504.8 1118.0,511.5 1110.0,518.5 1079.7,534.7 1085.0,531.0 1091.5,522.0 1093.4,511.0 1090.0,500.0 1082.0,492.0" fill="url(#ye)" />
<polygon points="658.2,331.0 1069.7,488.6 1082.0,492.0 1090.0,500.0 1093.4,511.0 1091.5,522.0 1085.0,531.0 1069.7,535.3 673.3,376.2 662.2,372.3 651.9,364.3 647.1,354.0 646.7,342.1 650.3,335.0" fill="#C29D00" stroke="#2a2000" stroke-width="0.8" stroke-linejoin="round" />
<polygon points="674.7,343.9 685.9,347.3 677.3,365.4" fill="url(#yt)" stroke="#2a2000" stroke-width="0.7" stroke-linejoin="round" />
<polygon points="681.3,364.7 682.9,374.4 673.3,371.1" fill="url(#yt2)" stroke="#2a2000" stroke-width="0.7" stroke-linejoin="round" />
<polygon points="710.8,357.0 722.1,360.8 712.8,379.0" fill="url(#yt)" stroke="#2a2000" stroke-width="0.7" stroke-linejoin="round" />
<polygon points="716.9,378.5 718.2,388.5 708.5,384.7" fill="url(#yt2)" stroke="#2a2000" stroke-width="0.7" stroke-linejoin="round" />
<polygon points="747.4,371.1 759.0,375.0 749.5,393.7" fill="url(#yt)" stroke="#2a2000" stroke-width="0.7" stroke-linejoin="round" />
<polygon points="753.7,393.1 755.0,403.3 745.1,399.5" fill="url(#yt2)" stroke="#2a2000" stroke-width="0.7" stroke-linejoin="round" />
<polygon points="783.7,384.5 795.8,388.0 786.9,407.5" fill="url(#yt)" stroke="#2a2000" stroke-width="0.7" stroke-linejoin="round" />
<polygon points="791.2,406.7 793.0,417.1 782.7,413.7" fill="url(#yt2)" stroke="#2a2000" stroke-width="0.7" stroke-linejoin="round" />
<polygon points="822.8,398.1 835.0,402.2 825.0,421.7" fill="url(#yt)" stroke="#2a2000" stroke-width="0.7" stroke-linejoin="round" />
<polygon points="829.4,421.2 830.9,431.9 820.4,427.9" fill="url(#yt2)" stroke="#2a2000" stroke-width="0.7" stroke-linejoin="round" />
<polygon points="863.4,414.2 875.6,418.9 864.6,438.5" fill="url(#yt)" stroke="#2a2000" stroke-width="0.7" stroke-linejoin="round" />
<polygon points="869.2,438.0 870.2,449.0 859.7,444.5" fill="url(#yt2)" stroke="#2a2000" stroke-width="0.7" stroke-linejoin="round" />
<polygon points="904.5,431.2 917.3,435.4 907.0,456.0" fill="url(#yt)" stroke="#2a2000" stroke-width="0.7" stroke-linejoin="round" />
<polygon points="911.6,455.3 913.2,466.5 902.2,462.4" fill="url(#yt2)" stroke="#2a2000" stroke-width="0.7" stroke-linejoin="round" />
<polygon points="947.8,447.7 960.8,452.1 950.0,473.0" fill="url(#yt)" stroke="#2a2000" stroke-width="0.7" stroke-linejoin="round" />
<polygon points="954.7,472.4 956.2,483.8 945.0,479.5" fill="url(#yt2)" stroke="#2a2000" stroke-width="0.7" stroke-linejoin="round" />
<polygon points="991.8,464.6 1005.1,469.0 994.4,490.5" fill="url(#yt)" stroke="#2a2000" stroke-width="0.7" stroke-linejoin="round" />
<polygon points="999.2,489.8 1000.9,501.5 989.4,497.2" fill="url(#yt2)" stroke="#2a2000" stroke-width="0.7" stroke-linejoin="round" />
<polygon points="1038.4,482.5 1051.9,487.3 1040.5,509.0" fill="url(#yt)" stroke="#2a2000" stroke-width="0.7" stroke-linejoin="round" />
<polygon points="1045.4,508.4 1046.8,520.3 1035.2,515.7" fill="url(#yt2)" stroke="#2a2000" stroke-width="0.7" stroke-linejoin="round" />
<ellipse cx="661.3" cy="351.6" rx="18.6" ry="12.7" transform="rotate(74.0 661.3 351.6)" fill="#CFA700" stroke="#2a2000" stroke-width="0.8" />
<ellipse cx="661.9" cy="352.2" rx="15.9" ry="10.8" transform="rotate(74.0 661.9 352.2)" fill="#C29D00" stroke="#2a2000" stroke-width="0.7" />
<ellipse cx="662.9" cy="353.0" rx="13.1" ry="8.9" transform="rotate(74.0 662.9 353.0)" fill="url(#yh)" stroke="#2a2000" stroke-width="0.8" />
<ellipse cx="695.6" cy="363.9" rx="19.1" ry="13.4" transform="rotate(72.6 695.6 363.9)" fill="#CFA700" stroke="#2a2000" stroke-width="0.8" />
<ellipse cx="696.2" cy="364.5" rx="16.2" ry="11.4" transform="rotate(72.6 696.2 364.5)" fill="#C29D00" stroke="#2a2000" stroke-width="0.7" />
<ellipse cx="697.2" cy="365.3" rx="13.3" ry="9.4" transform="rotate(72.6 697.2 365.3)" fill="url(#yh)" stroke="#2a2000" stroke-width="0.8" />
<ellipse cx="732.8" cy="378.6" rx="19.5" ry="14.1" transform="rotate(71.2 732.8 378.6)" fill="#CFA700" stroke="#2a2000" stroke-width="0.8" />
<ellipse cx="733.4" cy="379.2" rx="16.6" ry="12.0" transform="rotate(71.2 733.4 379.2)" fill="#C29D00" stroke="#2a2000" stroke-width="0.7" />
<ellipse cx="734.4" cy="380.0" rx="13.6" ry="9.9" transform="rotate(71.2 734.4 380.0)" fill="url(#yh)" stroke="#2a2000" stroke-width="0.8" />
<ellipse cx="769.0" cy="392.8" rx="19.9" ry="14.8" transform="rotate(69.8 769.0 392.8)" fill="#CFA700" stroke="#2a2000" stroke-width="0.8" />
<ellipse cx="769.6" cy="393.4" rx="16.9" ry="12.6" transform="rotate(69.8 769.6 393.4)" fill="#C29D00" stroke="#2a2000" stroke-width="0.7" />
<ellipse cx="770.6" cy="394.2" rx="13.9" ry="10.4" transform="rotate(69.8 770.6 394.2)" fill="url(#yh)" stroke="#2a2000" stroke-width="0.8" />
<ellipse cx="807.0" cy="405.8" rx="20.3" ry="15.6" transform="rotate(68.4 807.0 405.8)" fill="#CFA700" stroke="#2a2000" stroke-width="0.8" />
<ellipse cx="807.6" cy="406.4" rx="17.2" ry="13.2" transform="rotate(68.4 807.6 406.4)" fill="#C29D00" stroke="#2a2000" stroke-width="0.7" />
<ellipse cx="808.6" cy="407.2" rx="14.2" ry="10.9" transform="rotate(68.4 808.6 407.2)" fill="url(#yh)" stroke="#2a2000" stroke-width="0.8" />
<ellipse cx="846.0" cy="421.0" rx="20.7" ry="16.3" transform="rotate(67.0 846.0 421.0)" fill="#CFA700" stroke="#2a2000" stroke-width="0.8" />
<ellipse cx="846.6" cy="421.6" rx="17.6" ry="13.9" transform="rotate(67.0 846.6 421.6)" fill="#C29D00" stroke="#2a2000" stroke-width="0.7" />
<ellipse cx="847.6" cy="422.4" rx="14.5" ry="11.4" transform="rotate(67.0 847.6 422.4)" fill="url(#yh)" stroke="#2a2000" stroke-width="0.8" />
<ellipse cx="887.0" cy="439.0" rx="21.1" ry="17.1" transform="rotate(65.6 887.0 439.0)" fill="#CFA700" stroke="#2a2000" stroke-width="0.8" />
<ellipse cx="887.6" cy="439.6" rx="17.9" ry="14.6" transform="rotate(65.6 887.6 439.6)" fill="#C29D00" stroke="#2a2000" stroke-width="0.7" />
<ellipse cx="888.6" cy="440.4" rx="14.8" ry="12.0" transform="rotate(65.6 888.6 440.4)" fill="url(#yh)" stroke="#2a2000" stroke-width="0.8" />
<ellipse cx="930.0" cy="455.5" rx="21.5" ry="17.9" transform="rotate(64.2 930.0 455.5)" fill="#CFA700" stroke="#2a2000" stroke-width="0.8" />
<ellipse cx="930.6" cy="456.1" rx="18.3" ry="15.2" transform="rotate(64.2 930.6 456.1)" fill="#C29D00" stroke="#2a2000" stroke-width="0.7" />
<ellipse cx="931.6" cy="456.9" rx="15.0" ry="12.5" transform="rotate(64.2 931.6 456.9)" fill="url(#yh)" stroke="#2a2000" stroke-width="0.8" />
<ellipse cx="973.3" cy="472.7" rx="21.9" ry="18.7" transform="rotate(62.8 973.3 472.7)" fill="#CFA700" stroke="#2a2000" stroke-width="0.8" />
<ellipse cx="973.9" cy="473.3" rx="18.6" ry="15.9" transform="rotate(62.8 973.9 473.3)" fill="#C29D00" stroke="#2a2000" stroke-width="0.7" />
<ellipse cx="974.9" cy="474.1" rx="15.3" ry="13.1" transform="rotate(62.8 974.9 474.1)" fill="url(#yh)" stroke="#2a2000" stroke-width="0.8" />
<ellipse cx="1018.6" cy="490.0" rx="22.3" ry="19.5" transform="rotate(61.4 1018.6 490.0)" fill="#CFA700" stroke="#2a2000" stroke-width="0.8" />
<ellipse cx="1019.2" cy="490.6" rx="18.9" ry="16.6" transform="rotate(61.4 1019.2 490.6)" fill="#C29D00" stroke="#2a2000" stroke-width="0.7" />
<ellipse cx="1020.2" cy="491.4" rx="15.6" ry="13.7" transform="rotate(61.4 1020.2 491.4)" fill="url(#yh)" stroke="#2a2000" stroke-width="0.8" />
<ellipse cx="1066.0" cy="509.4" rx="22.6" ry="20.4" transform="rotate(60.0 1066.0 509.4)" fill="#CFA700" stroke="#2a2000" stroke-width="0.8" />
<ellipse cx="1066.6" cy="510.0" rx="19.3" ry="17.3" transform="rotate(60.0 1066.6 510.0)" fill="#C29D00" stroke="#2a2000" stroke-width="0.7" />
<ellipse cx="1067.6" cy="510.8" rx="15.9" ry="14.3" transform="rotate(60.0 1067.6 510.8)" fill="url(#yh)" stroke="#2a2000" stroke-width="0.8" />
<polygon points="708.5,524.1 707.2,524.4 705.9,524.6 704.5,524.5 703.1,524.3 701.6,523.8 700.1,523.1 698.6,522.2 697.1,521.1 695.6,519.8 694.1,518.3 692.6,516.7 691.1,514.9 689.8,513.0 688.4,511.0 687.2,508.8 686.0,506.6 684.9,504.3 683.9,501.9 683.0,499.5 682.3,497.0 681.6,494.6 681.1,492.1 680.7,489.7 680.4,487.4 680.2,485.1 680.2,482.9 680.3,480.8 680.6,478.8 681.0,477.0 681.5,475.3 682.1,473.8 682.9,472.4 683.7,471.3 684.7,470.3 685.8,469.5 686.9,468.9 757.7,441.3 759.0,440.9 760.3,440.8 761.7,440.8 763.1,441.1 764.6,441.6 766.1,442.3 767.6,443.2 769.1,444.3 770.6,445.5 772.1,447.0 773.6,448.6 775.0,450.4 776.4,452.3 777.8,454.4 779.0,456.5 780.2,458.8 781.3,461.1 782.3,463.5 783.2,465.9 783.9,468.3 784.6,470.8 785.1,473.2 785.5,475.6 785.8,478.0 786.0,480.3 786.0,482.4 785.9,484.5 785.6,486.5 785.2,488.3 784.7,490.0 784.1,491.6 783.3,492.9 782.5,494.1 781.5,495.1 780.4,495.8 779.3,496.4" fill="#9A9A9A" stroke="#303030" stroke-width="0.6" stroke-linejoin="round" />
<polygon points="768.3,508.7 766.7,509.1 765.1,509.3 763.3,509.2 761.6,508.9 759.7,508.3 757.8,507.4 755.9,506.3 754.0,504.9 752.1,503.3 750.3,501.5 748.4,499.5 746.6,497.3 744.9,494.9 743.2,492.3 741.6,489.6 740.2,486.8 738.8,483.9 737.6,480.9 736.5,477.9 735.5,474.8 734.7,471.8 734.0,468.7 733.5,465.7 733.1,462.8 733.0,459.9 732.9,457.2 733.1,454.6 733.4,452.1 733.9,449.8 734.5,447.7 735.3,445.8 736.3,444.1 737.3,442.7 738.6,441.4 739.9,440.5 741.3,439.7 754.6,434.6 756.1,434.1 757.8,433.9 759.5,434.0 761.3,434.3 763.1,435.0 765.0,435.8 766.9,436.9 768.8,438.3 770.7,439.9 772.6,441.7 774.4,443.8 776.2,446.0 778.0,448.4 779.6,450.9 781.2,453.6 782.7,456.4 784.0,459.3 785.3,462.3 786.4,465.3 787.3,468.4 788.2,471.5 788.8,474.5 789.3,477.5 789.7,480.4 789.9,483.3 789.9,486.0 789.7,488.6 789.4,491.1 788.9,493.4 788.3,495.5 787.5,497.4 786.6,499.1 785.5,500.6 784.3,501.8 782.9,502.8 781.5,503.5" fill="url(#wg)" stroke="#303030" stroke-width="0.8" stroke-linejoin="round" />
<polyline points="774.3,502.8 775.1,501.3 775.9,499.6 776.5,497.7 776.9,495.6 777.3,493.5 777.4,491.1 777.5,488.7 777.4,486.2 777.2,483.5 776.8,480.9 776.3,478.1 775.7,475.4 774.9,472.6 774.0,469.8 773.0,467.1 771.9,464.4 770.7,461.8 769.4,459.2 767.9,456.7 766.5,454.4 764.9,452.2 763.3,450.1 761.7,448.2 760.0,446.4 758.3,444.8 756.5,443.4 754.8,442.3 753.1,441.3 751.4,440.5 749.7,440.0" fill="none" stroke="#D4D4D4" stroke-width="2.0" stroke-linejoin="round" />
<polygon points="754.1,514.2 752.5,514.6 750.9,514.8 749.2,514.8 747.4,514.4 745.6,513.8 743.7,512.9 741.8,511.8 739.9,510.5 738.0,508.9 736.1,507.0 734.2,505.0 732.4,502.8 730.7,500.4 729.1,497.8 727.5,495.2 726.0,492.3 724.6,489.4 723.4,486.5 722.3,483.4 721.3,480.4 720.5,477.3 719.8,474.3 719.3,471.3 719.0,468.3 718.8,465.5 718.8,462.7 718.9,460.1 719.3,457.7 719.7,455.4 720.4,453.2 721.2,451.3 722.1,449.6 723.2,448.2 724.4,447.0 725.7,446.0 727.2,445.3 740.4,440.1 742.0,439.6 743.6,439.5 745.3,439.5 747.1,439.9 749.0,440.5 750.8,441.4 752.7,442.5 754.6,443.8 756.5,445.4 758.4,447.3 760.3,449.3 762.1,451.5 763.8,453.9 765.5,456.5 767.0,459.1 768.5,462.0 769.9,464.9 771.1,467.8 772.2,470.9 773.2,473.9 774.0,477.0 774.7,480.0 775.2,483.0 775.5,486.0 775.7,488.8 775.7,491.6 775.6,494.2 775.3,496.6 774.8,498.9 774.1,501.0 773.4,503.0 772.4,504.6 771.3,506.1 770.1,507.3 768.8,508.3 767.3,509.0" fill="url(#wg)" stroke="#303030" stroke-width="0.8" stroke-linejoin="round" />
<polyline points="760.1,508.3 761.0,506.8 761.7,505.1 762.3,503.2 762.8,501.2 763.1,499.0 763.3,496.7 763.3,494.2 763.3,491.7 763.0,489.1 762.7,486.4 762.1,483.7 761.5,480.9 760.7,478.1 759.9,475.4 758.8,472.6 757.7,469.9 756.5,467.3 755.2,464.7 753.8,462.3 752.3,459.9 750.8,457.7 749.2,455.6 747.5,453.7 745.8,451.9 744.1,450.4 742.4,449.0 740.7,447.8 738.9,446.8 737.2,446.0 735.6,445.5" fill="none" stroke="#D4D4D4" stroke-width="2.0" stroke-linejoin="round" />
<polygon points="739.9,519.7 738.4,520.2 736.7,520.4 735.0,520.3 733.2,519.9 731.4,519.3 729.5,518.5 727.6,517.4 725.7,516.0 723.8,514.4 721.9,512.6 720.1,510.5 718.3,508.3 716.6,505.9 714.9,503.4 713.3,500.7 711.8,497.9 710.5,495.0 709.3,492.0 708.1,489.0 707.2,485.9 706.4,482.8 705.7,479.8 705.2,476.8 704.8,473.9 704.6,471.0 704.6,468.3 704.8,465.6 705.1,463.2 705.6,460.9 706.2,458.8 707.0,456.9 707.9,455.2 709.0,453.7 710.2,452.5 711.6,451.5 713.0,450.8 726.2,445.6 727.8,445.2 729.4,445.0 731.2,445.1 733.0,445.4 734.8,446.0 736.7,446.9 738.6,448.0 740.5,449.4 742.4,451.0 744.3,452.8 746.1,454.8 747.9,457.0 749.6,459.4 751.3,462.0 752.9,464.7 754.3,467.5 755.7,470.4 756.9,473.4 758.0,476.4 759.0,479.4 759.8,482.5 760.5,485.6 761.0,488.6 761.4,491.5 761.5,494.3 761.6,497.1 761.4,499.7 761.1,502.2 760.6,504.5 760.0,506.6 759.2,508.5 758.3,510.2 757.2,511.6 756.0,512.9 754.6,513.8 753.2,514.6" fill="url(#wg)" stroke="#303030" stroke-width="0.8" stroke-linejoin="round" />
<polyline points="746.0,513.9 746.8,512.3 747.5,510.6 748.1,508.7 748.6,506.7 748.9,504.5 749.1,502.2 749.2,499.8 749.1,497.2 748.9,494.6 748.5,491.9 748.0,489.2 747.4,486.4 746.6,483.7 745.7,480.9 744.7,478.1 743.6,475.5 742.3,472.8 741.0,470.3 739.6,467.8 738.1,465.4 736.6,463.2 735.0,461.1 733.3,459.2 731.7,457.5 729.9,455.9 728.2,454.5 726.5,453.3 724.8,452.3 723.1,451.6 721.4,451.0" fill="none" stroke="#D4D4D4" stroke-width="2.0" stroke-linejoin="round" />
<polygon points="725.8,525.3 724.2,525.7 722.6,525.9 720.9,525.8 719.1,525.5 717.2,524.9 715.4,524.0 713.5,522.9 711.6,521.5 709.7,519.9 707.8,518.1 705.9,516.1 704.1,513.8 702.4,511.5 700.7,508.9 699.2,506.2 697.7,503.4 696.3,500.5 695.1,497.5 694.0,494.5 693.0,491.4 692.2,488.4 691.5,485.3 691.0,482.3 690.7,479.4 690.5,476.5 690.5,473.8 690.6,471.2 690.9,468.7 691.4,466.4 692.1,464.3 692.8,462.4 693.8,460.7 694.9,459.2 696.1,458.0 697.4,457.0 698.9,456.3 712.1,451.2 713.6,450.7 715.3,450.5 717.0,450.6 718.8,450.9 720.6,451.5 722.5,452.4 724.4,453.5 726.3,454.9 728.2,456.5 730.1,458.3 731.9,460.3 733.7,462.6 735.5,465.0 737.1,467.5 738.7,470.2 740.2,473.0 741.5,475.9 742.8,478.9 743.9,481.9 744.9,485.0 745.7,488.0 746.3,491.1 746.9,494.1 747.2,497.0 747.4,499.9 747.4,502.6 747.3,505.2 746.9,507.7 746.5,510.0 745.8,512.1 745.0,514.0 744.1,515.7 743.0,517.2 741.8,518.4 740.5,519.4 739.0,520.1" fill="url(#wg)" stroke="#303030" stroke-width="0.8" stroke-linejoin="round" />
<polyline points="731.8,519.4 732.7,517.9 733.4,516.2 734.0,514.3 734.5,512.2 734.8,510.0 735.0,507.7 735.0,505.3 734.9,502.8 734.7,500.1 734.3,497.5 733.8,494.7 733.2,492.0 732.4,489.2 731.5,486.4 730.5,483.7 729.4,481.0 728.2,478.3 726.9,475.8 725.5,473.3 724.0,471.0 722.4,468.7 720.8,466.7 719.2,464.7 717.5,463.0 715.8,461.4 714.1,460.0 712.3,458.8 710.6,457.9 708.9,457.1 707.3,456.6" fill="none" stroke="#D4D4D4" stroke-width="2.0" stroke-linejoin="round" />
<polygon points="711.6,530.8 710.1,531.2 708.4,531.4 706.7,531.4 704.9,531.0 703.1,530.4 701.2,529.5 699.3,528.4 697.4,527.0 695.5,525.4 693.6,523.6 691.8,521.6 690.0,519.4 688.2,517.0 686.6,514.4 685.0,511.7 683.5,508.9 682.2,506.0 680.9,503.0 679.8,500.0 678.9,497.0 678.0,493.9 677.4,490.9 676.9,487.9 676.5,484.9 676.3,482.1 676.3,479.3 676.5,476.7 676.8,474.2 677.3,471.9 677.9,469.8 678.7,467.9 679.6,466.2 680.7,464.8 681.9,463.5 683.3,462.6 684.7,461.9 697.9,456.7 699.5,456.2 701.1,456.0 702.9,456.1 704.6,456.5 706.5,457.1 708.4,457.9 710.3,459.1 712.2,460.4 714.1,462.0 715.9,463.8 717.8,465.9 719.6,468.1 721.3,470.5 723.0,473.0 724.6,475.7 726.0,478.5 727.4,481.4 728.6,484.4 729.7,487.5 730.7,490.5 731.5,493.6 732.2,496.6 732.7,499.6 733.0,502.6 733.2,505.4 733.2,508.2 733.1,510.8 732.8,513.2 732.3,515.5 731.7,517.6 730.9,519.5 729.9,521.2 728.9,522.7 727.6,523.9 726.3,524.9 724.9,525.6" fill="url(#wg)" stroke="#303030" stroke-width="0.8" stroke-linejoin="round" />
<polygon points="724.0,529.1 724.1,522.3 728.8,527.2" fill="#D3EAF8" />
<polyline points="723.3,526.2 724.1,522.3 727.4,524.6" fill="none" stroke="#303030" stroke-width="0.6" stroke-linejoin="round" />
<polygon points="694.9,454.7 699.6,459.6 699.7,452.8" fill="#D3EAF8" />
<polyline points="696.3,457.3 699.6,459.6 700.4,455.7" fill="none" stroke="#303030" stroke-width="0.6" stroke-linejoin="round" />
<polygon points="738.1,523.6 738.3,516.8 743.0,521.7" fill="#D3EAF8" />
<polyline points="737.4,520.7 738.3,516.8 741.5,519.1" fill="none" stroke="#303030" stroke-width="0.6" stroke-linejoin="round" />
<polygon points="709.1,449.2 713.8,454.1 713.9,447.3" fill="#D3EAF8" />
<polyline points="710.5,451.8 713.8,454.1 714.6,450.2" fill="none" stroke="#303030" stroke-width="0.6" stroke-linejoin="round" />
<polygon points="752.3,518.1 752.4,511.3 757.1,516.2" fill="#D3EAF8" />
<polyline points="751.6,515.2 752.4,511.3 755.7,513.6" fill="none" stroke="#303030" stroke-width="0.6" stroke-linejoin="round" />
<polygon points="723.2,443.6 727.9,448.5 728.1,441.7" fill="#D3EAF8" />
<polyline points="724.7,446.2 727.9,448.5 728.8,444.6" fill="none" stroke="#303030" stroke-width="0.6" stroke-linejoin="round" />
<polygon points="766.4,512.5 766.6,505.7 771.3,510.7" fill="#D3EAF8" />
<polyline points="765.7,509.6 766.6,505.7 769.8,508.0" fill="none" stroke="#303030" stroke-width="0.6" stroke-linejoin="round" />
<polygon points="737.4,438.1 742.1,443.0 742.2,436.2" fill="#D3EAF8" />
<polyline points="738.8,440.7 742.1,443.0 742.9,439.1" fill="none" stroke="#303030" stroke-width="0.6" stroke-linejoin="round" />
<polygon points="711.2,531.0 713.3,529.8 715.2,528.0 716.7,525.8 718.0,523.0 718.9,519.7 719.4,516.1 719.6,512.1 719.4,507.9 718.8,503.5 717.8,498.9 716.5,494.3 714.9,489.8 713.0,485.3 710.9,481.1 708.5,477.1 705.9,473.4 703.2,470.2 700.4,467.4 697.5,465.1 694.7,463.3 691.9,462.1 689.2,461.5 686.6,461.5 684.2,462.0 682.1,463.2 680.2,465.0 678.7,467.2 677.4,470.0 676.5,473.3 676.0,476.9 675.8,480.9 676.0,485.1 676.6,489.5 677.6,494.1 678.9,498.7 680.5,503.2 682.4,507.7 684.5,511.9 686.9,515.9 689.5,519.6 692.2,522.8 695.0,525.6 697.9,527.9 700.7,529.7 703.5,530.9 706.2,531.5 708.8,531.5 711.2,531.0" fill="#BDBDBD" stroke="#303030" stroke-width="0.7" stroke-linejoin="round" />
<polyline points="679.9,467.6 679.0,469.2 678.2,471.1 677.6,473.1 677.2,475.3 676.9,477.7 676.7,480.2 676.7,482.8 676.9,485.6 677.2,488.4 677.7,491.3" fill="none" stroke="#D8D8D8" stroke-width="1.5" stroke-linejoin="round" />
<polygon points="703.7,524.3 702.6,524.7 701.3,524.8 700.0,524.8 698.6,524.5 697.2,524.0 695.8,523.4 694.4,522.5 692.9,521.5 691.5,520.3 690.1,518.9 688.6,517.4 687.3,515.7 686.0,513.8 684.7,511.9 683.5,509.9 682.4,507.7 681.4,505.5 680.4,503.3 679.6,500.9 678.8,498.6 678.2,496.3 677.7,494.0 677.3,491.7 677.1,489.5 676.9,487.3 676.9,485.2 677.0,483.2 677.3,481.4 677.6,479.6 678.1,478.0 678.7,476.6 679.4,475.3 680.2,474.2 681.2,473.2 682.2,472.5 683.3,471.9 687.5,470.3 688.7,470.0 689.9,469.8 691.2,469.9 692.6,470.1 694.0,470.6 695.4,471.3 696.8,472.1 698.3,473.1 699.7,474.4 701.2,475.7 702.6,477.3 703.9,479.0 705.2,480.8 706.5,482.7 707.7,484.8 708.8,486.9 709.9,489.1 710.8,491.4 711.6,493.7 712.4,496.0 713.0,498.3 713.5,500.7 713.9,502.9 714.2,505.2 714.3,507.3 714.3,509.4 714.2,511.4 714.0,513.3 713.6,515.0 713.1,516.6 712.5,518.1 711.8,519.4 711.0,520.5 710.0,521.4 709.0,522.1 707.9,522.7" fill="#A8A8A8" stroke="#303030" stroke-width="0.6" stroke-linejoin="round" />
<polygon points="703.7,524.3 705.4,523.4 706.8,522.1 708.0,520.4 708.9,518.3 709.6,515.8 710.0,513.0 710.1,510.0 710.0,506.8 709.5,503.4 708.8,500.0 707.8,496.5 706.6,493.0 705.2,489.6 703.5,486.4 701.7,483.4 699.7,480.6 697.7,478.1 695.5,476.0 693.4,474.2 691.2,472.9 689.1,472.0 687.0,471.5 685.1,471.5 683.3,471.9 681.7,472.8 680.2,474.2 679.0,475.9 678.1,478.0 677.4,480.5 677.0,483.2 676.9,486.2 677.1,489.5 677.5,492.8 678.2,496.3 679.2,499.8 680.4,503.3 681.9,506.6 683.5,509.9 685.3,512.9 687.3,515.7 689.3,518.1 691.5,520.3 693.7,522.0 695.8,523.4 697.9,524.3 700.0,524.8 701.9,524.8 703.7,524.3" fill="#C2C2C2" stroke="#303030" stroke-width="0.7" stroke-linejoin="round" />
<polygon points="700.2,515.4 701.3,514.8 702.2,513.9 703.0,512.8 703.6,511.4 704.1,509.8 704.4,507.9 704.4,506.0 704.3,503.8 704.0,501.6 703.6,499.3 702.9,497.1 702.1,494.8 701.2,492.6 700.1,490.4 698.9,488.4 697.6,486.6 696.2,485.0 694.8,483.6 693.4,482.4 692.0,481.5 690.6,480.9 689.2,480.6 688.0,480.6 686.8,480.9 685.7,481.5 684.8,482.4 684.0,483.5 683.4,484.9 682.9,486.5 682.7,488.3 682.6,490.3 682.7,492.4 683.0,494.7 683.4,496.9 684.1,499.2 684.9,501.5 685.8,503.7 686.9,505.8 688.1,507.8 689.4,509.7 690.8,511.3 692.2,512.7 693.6,513.9 695.0,514.7 696.4,515.3 697.8,515.7 699.1,515.7 700.2,515.4" fill="#D6D6D6" stroke="#303030" stroke-width="0.7" stroke-linejoin="round" />
<polygon points="690.1,480.8 688.9,480.6 687.7,480.6 686.6,481.0 685.6,481.5 684.8,482.4 684.0,483.4 683.4,484.7 683.0,486.2 682.7,487.8 682.6,489.6 682.6,491.6 682.8,493.6 683.2,495.7 683.7,497.8 684.3,500.0 685.1,502.1 686.1,504.2 687.1,506.1 688.2,508.0 689.4,509.7 694.1,507.8 692.9,506.1 691.7,504.3 690.7,502.3 689.8,500.3 689.0,498.2 688.3,496.0 687.8,493.9 687.5,491.8 687.3,489.8 687.2,487.8 687.4,486.0 687.7,484.4 688.1,482.9 688.7,481.6 689.4,480.5 690.3,479.7 691.3,479.1 692.4,478.8 693.5,478.8 694.8,479.0" fill="#9E9E9E" />
<polygon points="682.7,496.0 688.6,493.7 684.0,482.0 689.5,479.8 694.1,491.5 700.0,489.3 704.3,500.3 698.4,502.6 703.0,514.3 697.5,516.4 692.9,504.7 687.0,507.0" fill="#E2E2E2" stroke="#303030" stroke-width="0.5" stroke-linejoin="round" />
<line x1="785.0" y1="458.0" x2="860.0" y2="416.7" stroke="#E3001B" stroke-width="3.6"/>
<polygon points="582.4,587.1 581.2,587.5 579.9,587.6 578.5,587.5 577.1,587.2 575.7,586.7 574.2,585.9 572.7,585.0 571.2,583.8 569.7,582.5 568.2,581.0 566.7,579.3 565.3,577.5 563.9,575.5 562.6,573.4 561.3,571.1 560.1,568.8 559.0,566.4 558.0,564.0 557.1,561.5 556.3,559.0 555.6,556.5 555.0,554.0 554.6,551.5 554.2,549.1 554.1,546.8 554.0,544.6 554.1,542.5 554.3,540.4 554.6,538.6 555.1,536.9 555.7,535.3 556.4,534.0 557.2,532.8 558.1,531.8 559.1,531.0 560.2,530.5 638.5,499.9 639.7,499.6 641.0,499.5 642.3,499.5 643.7,499.9 645.1,500.4 646.6,501.1 648.1,502.1 649.6,503.2 651.1,504.5 652.6,506.1 654.1,507.7 655.5,509.6 656.9,511.6 658.3,513.7 659.5,515.9 660.7,518.2 661.8,520.6 662.9,523.0 663.8,525.5 664.6,528.0 665.3,530.5 665.8,533.0 666.3,535.5 666.6,537.9 666.8,540.2 666.8,542.5 666.8,544.6 666.6,546.6 666.2,548.5 665.8,550.2 665.2,551.7 664.5,553.1 663.7,554.2 662.7,555.2 661.7,556.0 660.6,556.6" fill="#9A9A9A" stroke="#303030" stroke-width="0.6" stroke-linejoin="round" />
<polygon points="648.2,569.6 646.7,570.0 645.1,570.2 643.4,570.0 641.7,569.7 639.9,569.0 638.0,568.1 636.1,566.9 634.3,565.5 632.4,563.8 630.5,561.9 628.7,559.8 626.9,557.5 625.1,555.0 623.5,552.4 621.9,549.6 620.4,546.7 619.0,543.7 617.7,540.7 616.6,537.6 615.6,534.4 614.7,531.3 614.0,528.2 613.4,525.1 613.0,522.1 612.8,519.2 612.7,516.4 612.8,513.7 613.1,511.2 613.5,508.9 614.1,506.8 614.8,504.8 615.7,503.1 616.7,501.7 617.9,500.4 619.1,499.5 620.5,498.8 635.3,493.0 636.8,492.6 638.4,492.4 640.0,492.6 641.8,492.9 643.6,493.6 645.4,494.5 647.3,495.7 649.2,497.1 651.1,498.8 652.9,500.7 654.8,502.8 656.6,505.1 658.3,507.6 660.0,510.2 661.6,513.0 663.1,515.9 664.4,518.9 665.7,521.9 666.9,525.0 667.9,528.2 668.7,531.3 669.4,534.4 670.0,537.5 670.4,540.5 670.6,543.4 670.7,546.2 670.6,548.9 670.4,551.4 669.9,553.7 669.4,555.8 668.6,557.8 667.8,559.5 666.7,560.9 665.6,562.2 664.3,563.1 662.9,563.8" fill="url(#wg)" stroke="#303030" stroke-width="0.8" stroke-linejoin="round" />
<polyline points="654.0,563.7 654.8,562.2 655.4,560.4 656.0,558.5 656.4,556.5 656.7,554.2 656.8,551.9 656.8,549.4 656.7,546.8 656.4,544.1 656.0,541.4 655.4,538.6 654.8,535.8 653.9,532.9 653.0,530.1 652.0,527.3 650.8,524.5 649.6,521.8 648.3,519.2 646.8,516.6 645.4,514.2 643.8,511.9 642.2,509.8 640.6,507.8 638.9,505.9 637.2,504.3 635.5,502.8 633.8,501.6 632.1,500.6 630.4,499.8 628.8,499.2" fill="none" stroke="#D4D4D4" stroke-width="2.0" stroke-linejoin="round" />
<polygon points="632.5,575.7 631.0,576.1 629.4,576.3 627.8,576.2 626.0,575.8 624.2,575.1 622.4,574.2 620.5,573.0 618.6,571.6 616.7,569.9 614.9,568.0 613.0,565.9 611.2,563.6 609.5,561.1 607.8,558.5 606.2,555.7 604.7,552.8 603.3,549.8 602.1,546.8 600.9,543.7 599.9,540.5 599.1,537.4 598.4,534.3 597.8,531.2 597.4,528.2 597.2,525.3 597.1,522.5 597.2,519.8 597.4,517.3 597.8,515.0 598.4,512.9 599.2,510.9 600.0,509.2 601.1,507.8 602.2,506.6 603.5,505.6 604.9,504.9 619.6,499.1 621.1,498.7 622.7,498.5 624.4,498.7 626.1,499.1 627.9,499.7 629.8,500.6 631.6,501.8 633.5,503.2 635.4,504.9 637.3,506.8 639.1,508.9 640.9,511.2 642.7,513.7 644.3,516.3 645.9,519.1 647.4,522.0 648.8,525.0 650.1,528.0 651.2,531.1 652.2,534.3 653.1,537.4 653.8,540.5 654.3,543.6 654.7,546.6 655.0,549.5 655.1,552.3 655.0,555.0 654.7,557.5 654.3,559.8 653.7,561.9 653.0,563.9 652.1,565.6 651.1,567.0 649.9,568.3 648.7,569.2 647.3,569.9" fill="url(#wg)" stroke="#303030" stroke-width="0.8" stroke-linejoin="round" />
<polyline points="638.3,569.8 639.1,568.3 639.8,566.5 640.3,564.6 640.8,562.6 641.0,560.3 641.2,558.0 641.2,555.5 641.0,552.9 640.7,550.3 640.3,547.5 639.8,544.7 639.1,541.9 638.3,539.0 637.4,536.2 636.3,533.4 635.2,530.6 634.0,527.9 632.6,525.3 631.2,522.7 629.7,520.3 628.2,518.0 626.5,515.9 624.9,513.9 623.2,512.0 621.5,510.4 619.8,509.0 618.1,507.7 616.4,506.7 614.8,505.9 613.1,505.3" fill="none" stroke="#D4D4D4" stroke-width="2.0" stroke-linejoin="round" />
<polygon points="616.9,581.8 615.4,582.2 613.8,582.4 612.1,582.3 610.4,581.9 608.6,581.2 606.7,580.3 604.8,579.1 603.0,577.7 601.1,576.0 599.2,574.1 597.4,572.0 595.6,569.7 593.8,567.2 592.2,564.6 590.6,561.8 589.1,558.9 587.7,556.0 586.4,552.9 585.3,549.8 584.3,546.6 583.4,543.5 582.7,540.4 582.1,537.3 581.7,534.3 581.5,531.4 581.4,528.6 581.5,526.0 581.8,523.5 582.2,521.1 582.8,519.0 583.5,517.1 584.4,515.4 585.4,513.9 586.6,512.7 587.8,511.7 589.2,511.0 604.0,505.3 605.5,504.8 607.1,504.7 608.7,504.8 610.5,505.2 612.3,505.8 614.1,506.7 616.0,507.9 617.9,509.4 619.8,511.0 621.6,512.9 623.5,515.0 625.3,517.3 627.0,519.8 628.7,522.4 630.3,525.2 631.8,528.1 633.1,531.1 634.4,534.1 635.6,537.3 636.6,540.4 637.4,543.5 638.1,546.6 638.7,549.7 639.1,552.7 639.3,555.6 639.4,558.4 639.3,561.1 639.1,563.6 638.6,565.9 638.1,568.1 637.3,570.0 636.5,571.7 635.4,573.2 634.3,574.4 633.0,575.3 631.6,576.0" fill="url(#wg)" stroke="#303030" stroke-width="0.8" stroke-linejoin="round" />
<polyline points="622.7,575.9 623.5,574.4 624.1,572.7 624.7,570.8 625.1,568.7 625.4,566.5 625.5,564.1 625.5,561.6 625.4,559.0 625.1,556.4 624.7,553.6 624.1,550.8 623.5,548.0 622.7,545.2 621.7,542.3 620.7,539.5 619.5,536.7 618.3,534.0 617.0,531.4 615.6,528.9 614.1,526.4 612.5,524.1 610.9,522.0 609.3,520.0 607.6,518.2 605.9,516.5 604.2,515.1 602.5,513.8 600.8,512.8 599.1,512.0 597.5,511.4" fill="none" stroke="#D4D4D4" stroke-width="2.0" stroke-linejoin="round" />
<polygon points="601.2,587.9 599.7,588.3 598.1,588.5 596.5,588.4 594.7,588.0 592.9,587.3 591.1,586.4 589.2,585.2 587.3,583.8 585.4,582.1 583.6,580.2 581.7,578.1 579.9,575.8 578.2,573.4 576.5,570.7 574.9,567.9 573.4,565.1 572.0,562.1 570.8,559.0 569.6,555.9 568.6,552.8 567.8,549.6 567.1,546.5 566.5,543.4 566.1,540.4 565.9,537.5 565.8,534.7 565.9,532.1 566.1,529.6 566.5,527.2 567.1,525.1 567.9,523.2 568.7,521.5 569.8,520.0 570.9,518.8 572.2,517.8 573.6,517.1 588.3,511.4 589.8,510.9 591.4,510.8 593.1,510.9 594.8,511.3 596.6,511.9 598.5,512.9 600.3,514.0 602.2,515.5 604.1,517.1 606.0,519.0 607.8,521.1 609.6,523.4 611.4,525.9 613.0,528.5 614.6,531.3 616.1,534.2 617.5,537.2 618.8,540.3 619.9,543.4 620.9,546.5 621.8,549.6 622.5,552.8 623.1,555.8 623.5,558.8 623.7,561.7 623.8,564.5 623.7,567.2 623.4,569.7 623.0,572.0 622.4,574.2 621.7,576.1 620.8,577.8 619.8,579.3 618.6,580.5 617.4,581.5 616.0,582.2" fill="url(#wg)" stroke="#303030" stroke-width="0.8" stroke-linejoin="round" />
<polyline points="607.0,582.0 607.8,580.5 608.5,578.8 609.0,576.9 609.5,574.8 609.7,572.6 609.9,570.2 609.9,567.7 609.7,565.2 609.4,562.5 609.0,559.7 608.5,556.9 607.8,554.1 607.0,551.3 606.1,548.4 605.0,545.6 603.9,542.8 602.7,540.1 601.3,537.5 599.9,535.0 598.4,532.5 596.9,530.2 595.3,528.1 593.6,526.1 591.9,524.3 590.2,522.6 588.5,521.2 586.8,519.9 585.1,518.9 583.5,518.1 581.8,517.5" fill="none" stroke="#D4D4D4" stroke-width="2.0" stroke-linejoin="round" />
<polygon points="585.6,594.0 584.1,594.4 582.5,594.6 580.8,594.5 579.1,594.1 577.3,593.4 575.4,592.5 573.5,591.3 571.7,589.9 569.8,588.2 567.9,586.3 566.1,584.2 564.3,581.9 562.5,579.5 560.9,576.8 559.3,574.1 557.8,571.2 556.4,568.2 555.1,565.1 554.0,562.0 553.0,558.9 552.1,555.7 551.4,552.6 550.8,549.5 550.4,546.5 550.2,543.6 550.1,540.8 550.2,538.2 550.5,535.7 550.9,533.4 551.5,531.2 552.2,529.3 553.1,527.6 554.1,526.1 555.3,524.9 556.5,523.9 557.9,523.2 572.7,517.5 574.2,517.0 575.8,516.9 577.4,517.0 579.2,517.4 581.0,518.0 582.8,519.0 584.7,520.1 586.6,521.6 588.5,523.2 590.3,525.1 592.2,527.2 594.0,529.5 595.7,532.0 597.4,534.7 599.0,537.4 600.5,540.3 601.9,543.3 603.1,546.4 604.3,549.5 605.3,552.6 606.1,555.8 606.8,558.9 607.4,561.9 607.8,564.9 608.0,567.9 608.1,570.6 608.0,573.3 607.8,575.8 607.3,578.1 606.8,580.3 606.0,582.2 605.2,583.9 604.1,585.4 603.0,586.6 601.7,587.6 600.3,588.3" fill="url(#wg)" stroke="#303030" stroke-width="0.8" stroke-linejoin="round" />
<polygon points="599.5,591.9 599.5,584.9 604.3,590.0" fill="#D3EAF8" />
<polyline points="598.7,588.9 599.5,584.9 602.8,587.3" fill="none" stroke="#303030" stroke-width="0.6" stroke-linejoin="round" />
<polygon points="569.6,515.4 574.4,520.5 574.4,513.5" fill="#D3EAF8" />
<polyline points="571.1,518.1 574.4,520.5 575.2,516.5" fill="none" stroke="#303030" stroke-width="0.6" stroke-linejoin="round" />
<polygon points="615.1,585.8 615.2,578.8 619.9,583.9" fill="#D3EAF8" />
<polyline points="614.4,582.8 615.2,578.8 618.5,581.2" fill="none" stroke="#303030" stroke-width="0.6" stroke-linejoin="round" />
<polygon points="585.2,509.3 590.0,514.4 590.1,507.4" fill="#D3EAF8" />
<polyline points="586.7,512.0 590.0,514.4 590.8,510.4" fill="none" stroke="#303030" stroke-width="0.6" stroke-linejoin="round" />
<polygon points="630.8,579.6 630.8,572.7 635.6,577.7" fill="#D3EAF8" />
<polyline points="630.0,576.7 630.8,572.7 634.1,575.1" fill="none" stroke="#303030" stroke-width="0.6" stroke-linejoin="round" />
<polygon points="600.9,503.2 605.7,508.3 605.7,501.3" fill="#D3EAF8" />
<polyline points="602.4,505.9 605.7,508.3 606.5,504.3" fill="none" stroke="#303030" stroke-width="0.6" stroke-linejoin="round" />
<polygon points="646.4,573.5 646.5,566.6 651.2,571.6" fill="#D3EAF8" />
<polyline points="645.7,570.5 646.5,566.6 649.8,568.9" fill="none" stroke="#303030" stroke-width="0.6" stroke-linejoin="round" />
<polygon points="616.5,497.1 621.3,502.1 621.4,495.2" fill="#D3EAF8" />
<polyline points="618.0,499.8 621.3,502.1 622.1,498.2" fill="none" stroke="#303030" stroke-width="0.6" stroke-linejoin="round" />
<polygon points="585.1,594.2 587.2,593.0 589.0,591.3 590.4,589.0 591.6,586.2 592.4,582.9 592.8,579.2 592.9,575.2 592.6,570.9 592.0,566.3 590.9,561.7 589.6,557.0 587.9,552.3 586.0,547.7 583.8,543.4 581.4,539.3 578.8,535.5 576.1,532.1 573.3,529.2 570.5,526.8 567.6,524.9 564.9,523.6 562.3,522.9 559.8,522.9 557.5,523.4 555.4,524.6 553.6,526.3 552.2,528.6 551.0,531.4 550.2,534.7 549.8,538.4 549.7,542.4 550.0,546.7 550.6,551.3 551.7,555.9 553.0,560.6 554.7,565.3 556.6,569.9 558.8,574.2 561.2,578.3 563.8,582.1 566.5,585.5 569.3,588.4 572.1,590.8 575.0,592.7 577.7,594.0 580.3,594.7 582.8,594.7 585.1,594.2" fill="#BDBDBD" stroke="#303030" stroke-width="0.7" stroke-linejoin="round" />
<polyline points="553.4,529.0 552.5,530.6 551.8,532.5 551.3,534.5 550.9,536.8 550.6,539.2 550.5,541.7 550.6,544.4 550.8,547.2 551.2,550.1 551.8,553.0" fill="none" stroke="#D8D8D8" stroke-width="1.5" stroke-linejoin="round" />
<polygon points="577.6,587.3 576.5,587.7 575.3,587.8 574.0,587.7 572.7,587.4 571.3,586.9 569.9,586.2 568.5,585.3 567.0,584.2 565.6,583.0 564.2,581.5 562.8,579.9 561.4,578.2 560.1,576.3 558.8,574.3 557.6,572.2 556.5,570.0 555.4,567.7 554.5,565.4 553.6,563.0 552.8,560.6 552.2,558.2 551.6,555.9 551.2,553.5 550.9,551.3 550.7,549.1 550.7,546.9 550.7,544.9 550.9,543.0 551.2,541.2 551.7,539.6 552.2,538.1 552.9,536.8 553.7,535.7 554.6,534.8 555.5,534.1 556.6,533.5 560.8,531.9 561.9,531.6 563.1,531.5 564.4,531.5 565.8,531.8 567.1,532.3 568.5,533.0 569.9,533.9 571.4,535.0 572.8,536.3 574.2,537.7 575.6,539.3 577.0,541.1 578.3,543.0 579.6,545.0 580.8,547.1 581.9,549.3 583.0,551.5 583.9,553.9 584.8,556.2 585.6,558.6 586.2,561.0 586.8,563.4 587.2,565.7 587.5,568.0 587.7,570.2 587.7,572.3 587.7,574.3 587.5,576.2 587.2,578.0 586.7,579.6 586.2,581.1 585.5,582.4 584.7,583.5 583.8,584.4 582.9,585.2 581.8,585.7" fill="#A8A8A8" stroke="#303030" stroke-width="0.6" stroke-linejoin="round" />
<polygon points="577.6,587.3 579.2,586.5 580.5,585.1 581.7,583.4 582.5,581.3 583.1,578.8 583.5,576.0 583.5,572.9 583.3,569.6 582.8,566.2 582.0,562.6 581.0,559.1 579.8,555.5 578.3,552.0 576.6,548.7 574.8,545.6 572.8,542.7 570.7,540.1 568.6,537.9 566.5,536.1 564.3,534.7 562.2,533.7 560.2,533.2 558.3,533.1 556.6,533.5 555.0,534.4 553.7,535.7 552.6,537.5 551.7,539.6 551.1,542.1 550.7,544.9 550.7,548.0 550.9,551.3 551.4,554.7 552.2,558.2 553.2,561.8 554.5,565.4 555.9,568.8 557.6,572.2 559.4,575.3 561.4,578.2 563.5,580.7 565.6,583.0 567.7,584.8 569.9,586.2 572.0,587.2 574.0,587.7 575.9,587.8 577.6,587.3" fill="#C2C2C2" stroke="#303030" stroke-width="0.7" stroke-linejoin="round" />
<polygon points="574.0,578.1 575.0,577.6 575.9,576.7 576.7,575.5 577.3,574.1 577.7,572.5 577.9,570.7 577.9,568.6 577.8,566.5 577.4,564.2 576.9,561.9 576.3,559.5 575.4,557.2 574.5,554.9 573.4,552.7 572.1,550.7 570.9,548.8 569.5,547.1 568.1,545.6 566.7,544.4 565.3,543.5 563.9,542.8 562.6,542.5 561.3,542.5 560.2,542.7 559.2,543.3 558.3,544.2 557.5,545.3 557.0,546.7 556.6,548.4 556.3,550.2 556.3,552.2 556.4,554.4 556.8,556.7 557.3,559.0 558.0,561.3 558.8,563.7 559.8,566.0 560.9,568.2 562.1,570.2 563.4,572.1 564.7,573.8 566.1,575.2 567.5,576.5 568.9,577.4 570.3,578.0 571.6,578.4 572.9,578.4 574.0,578.1" fill="#D6D6D6" stroke="#303030" stroke-width="0.7" stroke-linejoin="round" />
<polygon points="563.5,542.7 562.2,542.5 561.1,542.5 560.1,542.8 559.1,543.4 558.3,544.2 557.6,545.2 557.0,546.5 556.6,548.0 556.4,549.7 556.3,551.5 556.4,553.5 556.6,555.6 557.0,557.7 557.5,559.9 558.2,562.1 559.0,564.3 560.0,566.4 561.0,568.4 562.2,570.3 563.4,572.1 568.0,570.3 566.8,568.5 565.7,566.6 564.6,564.6 563.7,562.5 562.9,560.3 562.2,558.1 561.7,555.9 561.3,553.8 561.0,551.7 561.0,549.7 561.0,547.9 561.3,546.2 561.7,544.7 562.2,543.4 562.9,542.4 563.8,541.5 564.7,541.0 565.8,540.7 566.9,540.6 568.1,540.9" fill="#9E9E9E" />
<polygon points="556.6,558.0 562.2,555.8 557.5,543.8 562.9,541.7 567.6,553.7 573.2,551.5 577.6,562.9 572.0,565.1 576.7,577.1 571.4,579.2 566.7,567.1 561.0,569.3" fill="#E2E2E2" stroke="#303030" stroke-width="0.5" stroke-linejoin="round" />
<line x1="660.0" y1="524.0" x2="697.7" y2="496.5" stroke="#E3001B" stroke-width="3.6"/>
<polygon points="126.3,800.4 125.5,800.6 124.5,800.5 123.4,800.2 122.2,799.6 121.0,798.6 119.7,797.5 118.4,796.1 117.0,794.5 115.7,792.6 114.4,790.7 113.2,788.6 112.1,786.4 111.1,784.2 110.1,781.9 109.4,779.7 108.7,777.6 108.3,775.5 108.0,773.6 107.8,771.9 107.9,770.3 108.1,769.0 108.4,768.0 109.0,767.2 109.7,766.6 491.0,580.2 495.7,580.2 501.5,585.3 501.9,593.1 505.3,594.5 509.0,597.2 509.7,608.7 503.0,612.5" fill="#B9B9B9" stroke="#303030" stroke-width="0.8" stroke-linejoin="round" />
<defs><linearGradient id="ax1u" gradientUnits="userSpaceOnUse" x1="109.7" y1="766.6" x2="114.1" y2="775.6"><stop offset="0" stop-color="#D4D4D4"/><stop offset="1" stop-color="#BBBBBB"/></linearGradient><linearGradient id="ax2u" gradientUnits="userSpaceOnUse" x1="120.2" y1="787.9" x2="126.3" y2="800.4"><stop offset="0" stop-color="#C8C8C8"/><stop offset="1" stop-color="#999999"/></linearGradient></defs>
<polygon points="115.1,764.0 491.0,580.2 495.7,580.2 501.5,585.3 501.5,585.6 119.5,772.9" fill="url(#ax1u)" />
<polygon points="119.5,772.9 501.5,585.6 501.9,593.1 122.7,779.4" fill="#A9A9A9" />
<polygon points="122.7,779.4 501.9,593.1 505.3,594.5 509.0,597.2 125.5,785.2" fill="#CFCFCF" />
<polygon points="125.5,785.2 509.0,597.2 509.7,608.7 503.0,612.5 131.7,797.7" fill="url(#ax2u)" />
<polyline points="119.5,772.9 501.5,585.6" fill="none" stroke="#3a3a3a" stroke-width="0.6" stroke-linejoin="round" stroke-dasharray="2.2 1.6"/>
<polyline points="122.7,779.4 501.9,593.1" fill="none" stroke="#3a3a3a" stroke-width="0.6" stroke-linejoin="round" stroke-dasharray="2.2 1.6"/>
<polyline points="125.5,785.2 509.0,597.2" fill="none" stroke="#3a3a3a" stroke-width="0.6" stroke-linejoin="round" stroke-dasharray="2.2 1.6"/>
<polygon points="126.3,800.4 125.5,800.6 124.5,800.5 123.4,800.2 122.2,799.6 121.0,798.6 119.7,797.5 118.4,796.1 117.0,794.5 115.7,792.6 114.4,790.7 113.2,788.6 112.1,786.4 111.1,784.2 110.1,781.9 109.4,779.7 108.7,777.6 108.3,775.5 108.0,773.6 107.8,771.9 107.9,770.3 108.1,769.0 108.4,768.0 109.0,767.2 109.7,766.6 491.0,580.2 495.7,580.2 501.5,585.3 501.9,593.1 505.3,594.5 509.0,597.2 509.7,608.7 503.0,612.5" fill="none" stroke="#303030" stroke-width="0.8" stroke-linejoin="round" />
<polyline points="501.5,585.3 501.9,593.1" fill="none" stroke="#303030" stroke-width="0.6" stroke-linejoin="round" />
<polygon points="106.8,768.0 112.6,765.2 118.0,776.4 123.6,773.6 129.3,785.1 123.7,787.8 129.2,799.0 123.4,801.8 118.0,790.6 112.4,793.4 106.7,781.9 112.3,779.2" fill="#A9A9A9" stroke="#303030" stroke-width="0.7" stroke-linejoin="round" />
<line x1="502.0" y1="594.0" x2="571.3" y2="558.8" stroke="#E3001B" stroke-width="3.6"/>
<text x="274" y="775" transform="rotate(-26 274 775)" font-family="Liberation Sans" font-weight="bold" font-size="29.5" fill="#000">5.6cm</text>
<line x1="518.8" y1="440.8" x2="682.0" y2="373.0" stroke="#E3001B" stroke-width="3.6"/>
<line x1="851.8" y1="593.5" x2="1010.0" y2="501.5" stroke="#E3001B" stroke-width="3.6"/>
<polygon points="485.4,471.3 484.7,471.5 484.1,471.6 483.3,471.6 482.6,471.4 481.8,471.1 481.0,470.7 480.2,470.2 479.4,469.6 478.6,468.9 477.7,468.1 476.9,467.1 476.1,466.2 475.3,465.1 474.6,463.9 473.9,462.7 473.2,461.5 472.6,460.2 472.0,458.8 471.4,457.5 470.9,456.1 470.5,454.8 470.2,453.4 469.9,452.1 469.7,450.8 469.5,449.5 469.4,448.3 469.4,447.1 469.5,446.0 469.6,445.0 469.8,444.1 470.1,443.2 470.4,442.5 470.9,441.8 471.3,441.3 471.8,440.8 472.4,440.5 511.7,424.0 512.3,423.9 513.0,423.8 513.7,423.8 514.5,424.0 515.2,424.3 516.0,424.7 516.8,425.2 517.7,425.8 518.5,426.5 519.3,427.3 520.1,428.2 520.9,429.2 521.7,430.3 522.5,431.4 523.2,432.7 523.9,433.9 524.5,435.2 525.1,436.5 525.6,437.9 526.1,439.3 526.5,440.6 526.9,442.0 527.2,443.3 527.4,444.6 527.6,445.9 527.6,447.1 527.6,448.3 527.6,449.4 527.4,450.4 527.2,451.3 527.0,452.2 526.6,452.9 526.2,453.6 525.7,454.1 525.2,454.5 524.6,454.8" fill="#0534E8" stroke="#101030" stroke-width="0.6" stroke-linejoin="round" />
<polygon points="522.1,456.5 522.9,455.9 523.7,455.2 524.3,454.1 524.7,452.8 525.0,451.4 525.2,449.7 525.1,447.9 524.9,445.9 524.5,443.9 524.0,441.8 523.3,439.7 522.5,437.6 521.6,435.6 520.6,433.6 519.4,431.8 518.3,430.1 517.0,428.6 515.7,427.3 514.5,426.2 513.2,425.4 512.0,424.8 510.8,424.5 509.7,424.5 508.7,424.7 511.5,423.6 512.5,423.3 513.6,423.4 514.8,423.6 516.0,424.2 517.2,425.0 518.5,426.1 519.8,427.4 521.0,428.9 522.2,430.6 523.3,432.4 524.4,434.4 525.3,436.5 526.1,438.5 526.8,440.7 527.3,442.7 527.7,444.8 527.9,446.7 527.9,448.5 527.8,450.2 527.5,451.7 527.1,453.0 526.4,454.0 525.7,454.8 524.8,455.3" fill="#0022B8" stroke="#101030" stroke-width="0.6" stroke-linejoin="round" />
<polygon points="516.7,448.4 529.2,443.1 530.5,446.2 518.0,451.5" fill="#D3EAF8" />
<polyline points="528.1,447.2 518.0,451.5 516.7,448.4 525.4,444.7" fill="none" stroke="#101030" stroke-width="0.6" stroke-linejoin="round" />
<polygon points="296.8,505.4 310.8,512.6 488.4,441.2 477.5,435.7 472.0,434.2" fill="#575757" stroke="#262626" stroke-width="0.6" stroke-linejoin="round" />
<polygon points="310.8,512.6 318.0,529.0 493.1,454.7 488.4,441.2" fill="#636363" stroke="#262626" stroke-width="0.6" stroke-linejoin="round" />
<polygon points="318.0,529.0 320.0,549.0 495.2,473.7 495.2,466.9 493.1,454.7" fill="#595959" stroke="#262626" stroke-width="0.6" stroke-linejoin="round" />
<polygon points="320.0,549.0 314.4,556.6 487.0,480.5 495.2,473.7" fill="#363636" stroke="#262626" stroke-width="0.6" stroke-linejoin="round" />
<polygon points="289.0,513.1 296.8,505.4 310.8,512.6 318.0,529.0 320.0,549.0 314.4,556.6 300.0,553.0" fill="#4a4a4a" stroke="#262626" stroke-width="0.7" stroke-linejoin="round" />
<polyline points="388.0,468.0 400.3,475.0 408.5,488.6 411.0,510.0 411.0,514.0" fill="none" stroke="#1e1e1e" stroke-width="0.7" stroke-linejoin="round" />
<polygon points="308.2,554.1 307.3,554.4 306.4,554.5 305.5,554.4 304.5,554.2 303.4,553.8 302.3,553.3 301.2,552.6 300.1,551.8 299.0,550.8 297.9,549.7 296.8,548.5 295.7,547.1 294.7,545.7 293.7,544.1 292.7,542.5 291.8,540.8 290.9,539.1 290.1,537.3 289.4,535.5 288.8,533.6 288.2,531.8 287.7,530.0 287.3,528.2 287.0,526.4 286.8,524.7 286.7,523.0 286.7,521.5 286.8,520.0 287.0,518.6 287.3,517.4 287.6,516.2 288.1,515.2 288.6,514.3 289.3,513.6 290.0,513.0 290.8,512.6 296.3,510.3 297.1,510.0 298.0,509.9 299.0,510.0 300.0,510.2 301.1,510.6 302.1,511.1 303.2,511.8 304.3,512.6 305.4,513.6 306.6,514.7 307.7,515.9 308.7,517.3 309.8,518.7 310.8,520.3 311.8,521.9 312.7,523.6 313.5,525.3 314.3,527.1 315.1,529.0 315.7,530.8 316.3,532.6 316.8,534.5 317.1,536.3 317.4,538.0 317.6,539.7 317.8,541.4 317.8,542.9 317.7,544.4 317.5,545.8 317.2,547.1 316.8,548.2 316.4,549.2 315.8,550.1 315.2,550.8 314.5,551.4 313.7,551.8" fill="#0430D8" stroke="#101030" stroke-width="0.6" stroke-linejoin="round" />
<polygon points="308.2,554.1 309.3,553.4 310.3,552.4 311.1,551.0 311.7,549.4 312.1,547.4 312.2,545.3 312.2,542.9 311.9,540.4 311.4,537.7 310.7,535.0 309.9,532.2 308.8,529.5 307.6,526.8 306.2,524.2 304.8,521.8 303.2,519.6 301.6,517.6 299.9,515.9 298.2,514.5 296.6,513.4 295.0,512.7 293.5,512.3 292.1,512.3 290.8,512.6 289.6,513.3 288.6,514.3 287.9,515.7 287.3,517.4 286.9,519.3 286.7,521.5 286.8,523.8 287.0,526.4 287.5,529.1 288.2,531.8 289.1,534.5 290.1,537.3 291.4,540.0 292.7,542.5 294.2,544.9 295.7,547.1 297.4,549.1 299.0,550.8 300.7,552.2 302.3,553.3 303.9,554.0 305.5,554.4 306.9,554.5 308.2,554.1" fill="#0838F0" stroke="#101030" stroke-width="0.6" stroke-linejoin="round" />
<polyline points="289.2,517.0 288.7,518.3 288.3,519.9 288.0,521.6 288.0,523.5 288.1,525.5 288.4,527.7 288.8,530.0 289.4,532.3 290.2,534.6 291.1,536.9 292.1,539.1 293.2,541.3 294.4,543.4 295.7,545.3 297.1,547.0 298.5,548.5 299.9,549.8 301.3,550.8 302.6,551.6 304.0,552.1" fill="none" stroke="#101030" stroke-width="0.5" stroke-linejoin="round" />
<polygon points="265.3,565.6 264.7,565.8 264.0,565.9 263.3,565.8 262.6,565.7 261.8,565.4 261.0,565.0 260.2,564.5 259.4,563.9 258.6,563.2 257.8,562.4 257.0,561.5 256.2,560.5 255.4,559.4 254.7,558.3 253.9,557.1 253.3,555.9 252.6,554.6 252.1,553.3 251.5,551.9 251.0,550.6 250.6,549.2 250.3,547.9 250.0,546.6 249.8,545.3 249.6,544.0 249.6,542.8 249.5,541.7 249.6,540.6 249.7,539.6 249.9,538.7 250.2,537.8 250.6,537.1 251.0,536.4 251.4,535.9 251.9,535.5 252.5,535.2 293.1,518.2 293.7,518.0 294.4,517.9 295.1,517.9 295.8,518.1 296.6,518.4 297.4,518.8 298.2,519.3 299.0,519.9 299.8,520.6 300.6,521.4 301.4,522.3 302.2,523.3 303.0,524.3 303.7,525.5 304.4,526.7 305.1,527.9 305.7,529.2 306.3,530.5 306.8,531.8 307.3,533.2 307.7,534.5 308.1,535.9 308.4,537.2 308.6,538.5 308.7,539.7 308.8,540.9 308.8,542.1 308.8,543.2 308.6,544.2 308.4,545.1 308.2,545.9 307.8,546.7 307.4,547.3 306.9,547.9 306.4,548.3 305.9,548.6" fill="#0534E8" stroke="#101030" stroke-width="0.6" stroke-linejoin="round" />
<polygon points="265.9,567.0 265.2,567.2 264.5,567.3 263.7,567.2 262.9,567.1 262.1,566.8 261.2,566.3 260.3,565.8 259.4,565.1 258.5,564.4 257.7,563.5 256.8,562.5 255.9,561.4 255.1,560.3 254.3,559.0 253.5,557.7 252.8,556.4 252.1,555.0 251.4,553.5 250.9,552.1 250.3,550.6 249.9,549.1 249.5,547.7 249.2,546.2 248.9,544.8 248.8,543.4 248.7,542.1 248.7,540.9 248.8,539.7 248.9,538.6 249.1,537.6 249.4,536.7 249.8,535.9 250.2,535.2 250.7,534.6 251.3,534.1 251.9,533.8 255.6,532.3 256.3,532.0 257.0,532.0 257.8,532.0 258.6,532.2 259.4,532.5 260.3,532.9 261.2,533.5 262.1,534.1 262.9,534.9 263.8,535.8 264.7,536.8 265.6,537.8 266.4,539.0 267.2,540.2 268.0,541.5 268.7,542.9 269.4,544.3 270.1,545.7 270.6,547.2 271.2,548.6 271.6,550.1 272.0,551.6 272.3,553.0 272.5,554.4 272.7,555.8 272.8,557.1 272.8,558.4 272.7,559.6 272.6,560.6 272.4,561.7 272.1,562.6 271.7,563.4 271.3,564.1 270.7,564.7 270.2,565.1 269.6,565.4" fill="#0534E8" stroke="#101030" stroke-width="0.6" stroke-linejoin="round" />
<polyline points="269.6,565.4 270.5,564.9 271.3,564.1 271.9,563.0 272.4,561.7 272.7,560.1 272.8,558.4 272.8,556.5 272.5,554.4 272.2,552.3 271.6,550.1 270.9,547.9 270.1,545.7 269.1,543.6 268.0,541.5 266.8,539.6 265.6,537.8 264.3,536.3 262.9,534.9 261.6,533.8 260.3,532.9 259.0,532.3 257.8,532.0 256.7,532.0 255.6,532.3" fill="none" stroke="#101030" stroke-width="0.6" stroke-linejoin="round" />
<polygon points="265.9,567.0 266.8,566.4 267.6,565.6 268.2,564.5 268.7,563.2 269.0,561.7 269.1,559.9 269.1,558.0 268.9,556.0 268.5,553.9 267.9,551.7 267.2,549.5 266.4,547.3 265.4,545.1 264.3,543.1 263.1,541.2 261.9,539.4 260.6,537.8 259.3,536.4 257.9,535.3 256.6,534.5 255.3,533.9 254.1,533.6 253.0,533.5 251.9,533.8 251.0,534.4 250.2,535.2 249.6,536.3 249.1,537.6 248.8,539.1 248.7,540.9 248.7,542.8 248.9,544.8 249.3,546.9 249.9,549.1 250.6,551.3 251.4,553.5 252.4,555.7 253.5,557.7 254.7,559.6 255.9,561.4 257.2,563.0 258.5,564.4 259.9,565.5 261.2,566.3 262.5,566.9 263.7,567.2 264.8,567.3 265.9,567.0" fill="#0534E8" stroke="#101030" stroke-width="0.6" stroke-linejoin="round" />
<polygon points="264.2,563.0 264.9,562.6 265.5,562.0 266.0,561.1 266.3,560.1 266.6,559.0 266.7,557.6 266.6,556.2 266.5,554.6 266.2,553.0 265.8,551.4 265.2,549.7 264.6,548.0 263.8,546.4 263.0,544.8 262.1,543.4 261.2,542.0 260.2,540.8 259.2,539.8 258.2,538.9 257.2,538.3 256.2,537.8 255.3,537.6 254.4,537.6 253.6,537.8 252.9,538.2 252.3,538.8 251.8,539.7 251.5,540.7 251.2,541.8 251.1,543.2 251.2,544.6 251.3,546.2 251.6,547.8 252.0,549.4 252.6,551.1 253.2,552.8 254.0,554.4 254.8,556.0 255.7,557.4 256.6,558.8 257.6,560.0 258.6,561.0 259.6,561.9 260.6,562.5 261.6,563.0 262.5,563.2 263.4,563.2 264.2,563.0" fill="#0426C4" stroke="#101030" stroke-width="0.5" stroke-linejoin="round" />
<polygon points="253.6,537.8 252.9,538.2 252.3,538.8 251.8,539.7 251.5,540.7 251.2,541.8 251.1,543.2 251.2,544.6 251.3,546.2 251.6,547.8 252.0,549.4 252.6,551.1 253.2,552.8 254.0,554.4 254.8,556.0 255.7,557.4 256.6,558.8 257.6,560.0 258.6,561.0 259.6,561.9 260.6,562.5 261.6,563.0 262.5,563.2 263.4,563.2 264.2,563.0 272.3,559.6 271.5,559.8 270.7,559.8 269.7,559.6 268.8,559.1 267.8,558.5 266.7,557.6 265.7,556.6 264.7,555.4 263.8,554.0 262.9,552.6 262.1,551.0 261.3,549.4 260.7,547.7 260.2,546.0 259.7,544.4 259.5,542.8 259.3,541.2 259.3,539.8 259.4,538.4 259.6,537.3 260.0,536.3 260.4,535.4 261.0,534.8 261.7,534.4" fill="#0A3AF0" stroke="#101030" stroke-width="0.5" stroke-linejoin="round" />
<polygon points="248.7,539.4 248.6,542.2 256.7,538.8 256.8,536.0" fill="#D3EAF8" />
<polygon points="268.6,560.6 286.3,553.2 287.2,555.3 269.5,562.8" fill="#0022B8" stroke="#101030" stroke-width="0.5" stroke-linejoin="round" />
<polygon points="821.1,633.5 820.4,633.8 819.7,634.0 818.9,634.0 818.0,634.0 817.2,633.8 816.2,633.5 815.3,633.0 814.3,632.5 813.2,631.8 812.2,631.0 811.2,630.1 810.2,629.2 809.2,628.1 808.2,627.0 807.2,625.7 806.3,624.5 805.4,623.1 804.5,621.8 803.7,620.3 803.0,618.9 802.3,617.5 801.7,616.0 801.2,614.6 800.8,613.2 800.4,611.8 800.2,610.5 800.0,609.2 799.9,608.0 799.9,606.9 800.0,605.8 800.2,604.9 800.4,604.0 800.8,603.2 801.2,602.6 801.7,602.0 802.3,601.6 842.7,577.9 843.3,577.6 844.0,577.4 844.8,577.3 845.7,577.4 846.6,577.6 847.5,577.9 848.5,578.3 849.5,578.9 850.5,579.5 851.5,580.3 852.5,581.2 853.6,582.2 854.6,583.2 855.6,584.4 856.5,585.6 857.5,586.9 858.4,588.2 859.2,589.6 860.0,591.0 860.7,592.4 861.4,593.9 862.0,595.3 862.5,596.7 862.9,598.1 863.3,599.5 863.6,600.8 863.7,602.1 863.8,603.3 863.8,604.4 863.7,605.5 863.6,606.5 863.3,607.3 862.9,608.1 862.5,608.8 862.0,609.3 861.4,609.8" fill="#0534E8" stroke="#101030" stroke-width="0.6" stroke-linejoin="round" />
<polygon points="858.7,612.1 859.6,611.4 860.3,610.4 860.9,609.2 861.2,607.7 861.3,606.0 861.2,604.2 860.8,602.2 860.3,600.1 859.6,597.9 858.7,595.6 857.7,593.4 856.5,591.2 855.1,589.1 853.7,587.1 852.2,585.2 850.6,583.5 849.0,582.0 847.4,580.8 845.8,579.8 844.3,579.1 842.9,578.6 841.5,578.5 840.3,578.6 839.3,579.0 842.3,577.3 843.4,576.8 844.6,576.7 845.9,576.8 847.3,577.3 848.8,578.0 850.4,579.0 852.0,580.3 853.6,581.7 855.2,583.4 856.7,585.3 858.1,587.3 859.5,589.4 860.7,591.6 861.7,593.9 862.6,596.1 863.3,598.3 863.9,600.4 864.2,602.4 864.3,604.3 864.2,606.0 863.9,607.4 863.4,608.7 862.7,609.6 861.8,610.4" fill="#0022B8" stroke="#101030" stroke-width="0.6" stroke-linejoin="round" />
<polygon points="851.5,604.0 864.7,596.3 866.5,599.4 853.4,607.2" fill="#D3EAF8" />
<polyline points="864.2,600.8 853.4,607.2 851.5,604.0 860.8,598.5" fill="none" stroke="#101030" stroke-width="0.6" stroke-linejoin="round" />
<polygon points="627.0,693.5 645.4,705.7 822.0,601.2 809.7,594.4 800.6,591.3" fill="#575757" stroke="#262626" stroke-width="0.6" stroke-linejoin="round" />
<polygon points="645.4,705.7 655.3,728.6 831.0,617.2 822.0,601.2" fill="#646464" stroke="#262626" stroke-width="0.6" stroke-linejoin="round" />
<polygon points="655.3,728.6 643.0,753.0 831.0,638.6 831.0,617.2" fill="#555555" stroke="#262626" stroke-width="0.6" stroke-linejoin="round" />
<polygon points="612.6,700.4 627.0,693.5 645.4,705.7 655.3,728.6 653.0,745.0 643.0,753.0 625.0,740.0" fill="#4a4a4a" stroke="#262626" stroke-width="0.7" stroke-linejoin="round" />
<polyline points="717.8,639.9 737.8,650.7 746.8,667.0 747.7,690.6" fill="none" stroke="#1e1e1e" stroke-width="0.7" stroke-linejoin="round" />
<polygon points="643.4,748.4 642.4,748.9 641.3,749.1 640.2,749.2 639.0,749.1 637.7,748.8 636.3,748.4 634.9,747.7 633.4,746.9 632.0,745.9 630.5,744.8 629.0,743.5 627.5,742.1 626.0,740.5 624.5,738.9 623.1,737.1 621.7,735.2 620.4,733.3 619.2,731.3 618.1,729.2 617.0,727.2 616.0,725.1 615.2,723.0 614.4,720.9 613.8,718.8 613.3,716.8 612.9,714.9 612.6,713.0 612.5,711.3 612.5,709.6 612.6,708.1 612.9,706.6 613.2,705.4 613.8,704.2 614.4,703.3 615.1,702.5 616.0,701.9 622.0,698.3 623.0,697.9 624.1,697.6 625.2,697.5 626.4,697.6 627.7,697.9 629.1,698.3 630.5,699.0 632.0,699.8 633.4,700.8 634.9,701.9 636.4,703.2 637.9,704.6 639.4,706.2 640.9,707.8 642.3,709.6 643.7,711.5 645.0,713.4 646.2,715.4 647.3,717.5 648.4,719.6 649.4,721.7 650.2,723.8 651.0,725.8 651.6,727.9 652.1,729.9 652.5,731.8 652.8,733.7 652.9,735.5 652.9,737.1 652.8,738.7 652.5,740.1 652.2,741.3 651.7,742.5 651.0,743.4 650.3,744.2 649.4,744.9" fill="#0430D8" stroke="#101030" stroke-width="0.6" stroke-linejoin="round" />
<polygon points="643.4,748.4 644.6,747.4 645.6,746.0 646.3,744.3 646.8,742.2 646.9,739.8 646.8,737.2 646.3,734.4 645.6,731.4 644.6,728.3 643.3,725.2 641.9,722.1 640.2,719.0 638.3,716.0 636.3,713.2 634.1,710.5 631.9,708.2 629.7,706.1 627.4,704.3 625.2,702.9 623.1,701.9 621.0,701.3 619.2,701.1 617.5,701.3 616.0,701.9 614.7,702.9 613.8,704.2 613.0,706.0 612.6,708.1 612.4,710.4 612.6,713.0 613.0,715.8 613.8,718.8 614.8,721.9 616.0,725.1 617.5,728.2 619.2,731.3 621.1,734.3 623.1,737.1 625.2,739.7 627.5,742.1 629.7,744.2 632.0,745.9 634.2,747.3 636.3,748.4 638.3,749.0 640.2,749.2 641.9,749.0 643.4,748.4" fill="#0838F0" stroke="#101030" stroke-width="0.6" stroke-linejoin="round" />
<polyline points="614.9,707.3 614.4,709.0 614.2,710.9 614.2,713.0 614.4,715.2 614.9,717.7 615.6,720.2 616.5,722.8 617.6,725.4 618.8,728.1 620.3,730.7 621.8,733.2 623.5,735.6 625.3,737.8 627.1,739.9 629.0,741.7 630.9,743.3 632.8,744.6 634.6,745.6 636.4,746.3 638.0,746.7" fill="none" stroke="#101030" stroke-width="0.5" stroke-linejoin="round" />
<polygon points="594.0,769.1 593.3,769.4 592.6,769.6 591.7,769.7 590.8,769.6 589.9,769.4 588.9,769.0 587.8,768.6 586.8,768.0 585.7,767.3 584.6,766.4 583.5,765.5 582.4,764.4 581.3,763.3 580.2,762.1 579.2,760.8 578.2,759.4 577.2,758.0 576.3,756.5 575.5,755.0 574.7,753.5 574.0,751.9 573.3,750.4 572.8,748.9 572.3,747.4 572.0,745.9 571.7,744.5 571.5,743.1 571.4,741.8 571.4,740.6 571.5,739.5 571.7,738.4 571.9,737.5 572.3,736.7 572.8,736.0 573.3,735.4 574.0,734.9 619.6,708.1 620.4,707.7 621.1,707.5 622.0,707.5 622.9,707.5 623.8,707.8 624.8,708.1 625.9,708.6 626.9,709.2 628.0,709.9 629.1,710.7 630.2,711.6 631.3,712.7 632.4,713.8 633.5,715.0 634.5,716.3 635.5,717.7 636.5,719.1 637.4,720.6 638.2,722.1 639.0,723.6 639.7,725.2 640.3,726.7 640.9,728.2 641.4,729.8 641.7,731.2 642.0,732.6 642.2,734.0 642.3,735.3 642.3,736.5 642.2,737.7 642.0,738.7 641.7,739.6 641.4,740.4 640.9,741.2 640.4,741.7 639.7,742.2" fill="#0534E8" stroke="#101030" stroke-width="0.6" stroke-linejoin="round" />
<polygon points="594.9,770.5 594.1,770.9 593.3,771.1 592.4,771.2 591.4,771.1 590.4,770.9 589.3,770.5 588.1,770.0 587.0,769.3 585.8,768.6 584.6,767.7 583.4,766.6 582.2,765.5 581.0,764.3 579.9,762.9 578.8,761.5 577.7,760.0 576.6,758.5 575.7,756.9 574.7,755.3 573.9,753.6 573.1,751.9 572.4,750.3 571.8,748.6 571.3,747.0 570.9,745.4 570.6,743.8 570.4,742.4 570.3,741.0 570.3,739.6 570.4,738.4 570.6,737.3 570.9,736.3 571.3,735.4 571.8,734.6 572.4,734.0 573.1,733.5 577.2,731.0 578.0,730.7 578.9,730.5 579.8,730.4 580.7,730.5 581.8,730.7 582.9,731.1 584.0,731.6 585.1,732.2 586.3,733.0 587.5,733.9 588.7,734.9 589.9,736.1 591.1,737.3 592.2,738.6 593.4,740.0 594.5,741.5 595.5,743.1 596.5,744.7 597.4,746.3 598.2,748.0 599.0,749.6 599.7,751.3 600.3,753.0 600.8,754.6 601.2,756.2 601.5,757.7 601.7,759.2 601.8,760.6 601.8,761.9 601.7,763.2 601.5,764.3 601.2,765.3 600.8,766.2 600.3,767.0 599.7,767.6 599.0,768.1" fill="#0534E8" stroke="#101030" stroke-width="0.6" stroke-linejoin="round" />
<polyline points="599.0,768.1 600.0,767.3 600.8,766.2 601.4,764.8 601.7,763.2 601.9,761.3 601.7,759.2 601.4,757.0 600.8,754.6 600.0,752.1 599.0,749.6 597.8,747.1 596.5,744.7 595.0,742.3 593.4,740.0 591.7,737.9 589.9,736.1 588.1,734.4 586.3,733.0 584.6,731.9 582.9,731.1 581.3,730.6 579.8,730.4 578.4,730.6 577.2,731.0" fill="none" stroke="#101030" stroke-width="0.6" stroke-linejoin="round" />
<polygon points="594.9,770.5 595.9,769.7 596.7,768.6 597.3,767.2 597.6,765.6 597.7,763.7 597.6,761.6 597.3,759.4 596.7,757.0 595.9,754.6 594.9,752.1 593.7,749.6 592.3,747.1 590.8,744.7 589.2,742.5 587.5,740.4 585.8,738.5 584.0,736.8 582.2,735.4 580.4,734.3 578.7,733.5 577.1,733.0 575.6,732.8 574.3,733.0 573.1,733.5 572.1,734.3 571.3,735.4 570.7,736.8 570.4,738.4 570.3,740.3 570.4,742.4 570.7,744.6 571.3,747.0 572.1,749.4 573.1,751.9 574.3,754.4 575.7,756.9 577.2,759.3 578.8,761.5 580.5,763.6 582.2,765.5 584.0,767.2 585.8,768.6 587.6,769.7 589.3,770.5 590.9,771.0 592.4,771.2 593.7,771.0 594.9,770.5" fill="#0534E8" stroke="#101030" stroke-width="0.6" stroke-linejoin="round" />
<polygon points="592.3,766.1 593.0,765.5 593.6,764.6 594.1,763.6 594.3,762.3 594.4,760.9 594.3,759.3 594.1,757.6 593.6,755.8 593.0,753.9 592.3,752.0 591.4,750.1 590.3,748.3 589.2,746.5 588.0,744.8 586.7,743.2 585.3,741.7 584.0,740.5 582.6,739.4 581.3,738.6 580.0,737.9 578.8,737.6 577.6,737.4 576.6,737.5 575.7,737.9 575.0,738.5 574.4,739.4 573.9,740.4 573.7,741.7 573.6,743.1 573.7,744.7 573.9,746.4 574.4,748.2 575.0,750.1 575.7,752.0 576.6,753.9 577.7,755.7 578.8,757.5 580.0,759.2 581.3,760.8 582.7,762.3 584.0,763.5 585.4,764.6 586.7,765.4 588.0,766.1 589.2,766.4 590.4,766.6 591.4,766.5 592.3,766.1" fill="#0426C4" stroke="#101030" stroke-width="0.5" stroke-linejoin="round" />
<polygon points="575.7,737.9 575.0,738.5 574.4,739.4 573.9,740.4 573.7,741.7 573.6,743.1 573.7,744.7 573.9,746.4 574.4,748.2 575.0,750.1 575.7,752.0 576.6,753.9 577.7,755.7 578.8,757.5 580.0,759.2 581.3,760.8 582.7,762.3 584.0,763.5 585.4,764.6 586.7,765.4 588.0,766.1 589.2,766.4 590.4,766.6 591.4,766.5 592.3,766.1 601.4,760.7 600.5,761.1 599.5,761.2 598.3,761.1 597.1,760.7 595.8,760.1 594.5,759.2 593.1,758.2 591.8,756.9 590.4,755.5 589.1,753.9 587.9,752.2 586.8,750.4 585.7,748.5 584.8,746.6 584.1,744.7 583.5,742.8 583.0,741.0 582.8,739.3 582.7,737.7 582.8,736.3 583.0,735.1 583.5,734.0 584.1,733.2 584.8,732.6" fill="#0A3AF0" stroke="#101030" stroke-width="0.5" stroke-linejoin="round" />
<polygon points="570.1,740.7 570.5,743.9 579.6,738.6 579.2,735.3" fill="#D3EAF8" />
<polygon points="597.0,762.7 617.2,750.9 618.6,753.3 598.4,765.1" fill="#0022B8" stroke="#101030" stroke-width="0.5" stroke-linejoin="round" />
<polygon points="704.6,363.5 683.0,384.4 674.5,364.1" fill="#E3001B" />
<polygon points="1032.4,488.6 1013.7,512.2 1002.7,493.2" fill="#E3001B" />
</svg>
</body></html>
